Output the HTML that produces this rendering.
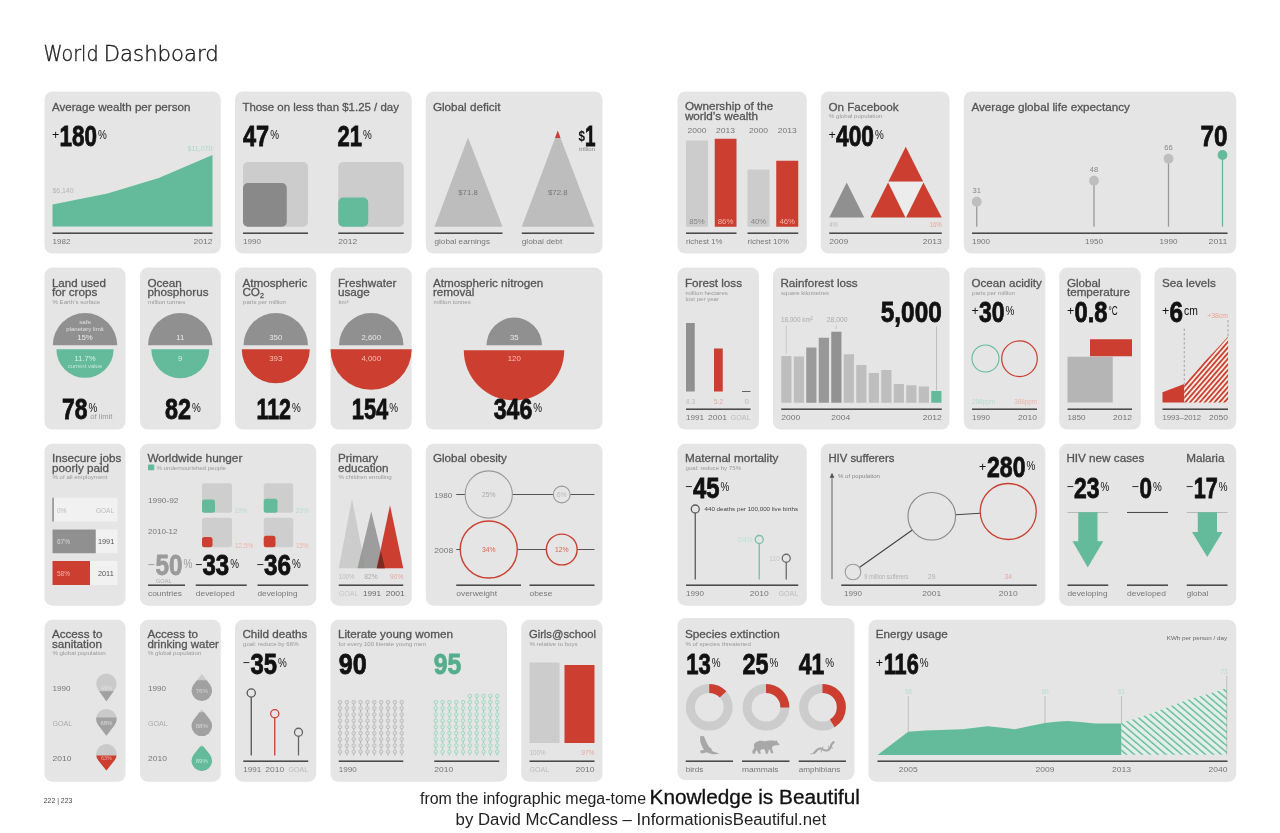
<!DOCTYPE html>
<html lang="en"><head><meta charset="utf-8"><title>World Dashboard</title>
<style>
html,body{margin:0;padding:0;background:#fff;}
body{width:1280px;height:833px;overflow:hidden;font-family:"Liberation Sans",sans-serif;}
svg{display:block;font-family:"Liberation Sans",sans-serif;}
</style></head><body>
<svg width="1280" height="833" viewBox="0 0 1280 833">
<defs>
<pattern id="hatchR" width="3.7" height="10" patternUnits="userSpaceOnUse" patternTransform="rotate(41) translate(3.095 0)"><rect x="0" y="0" width="3.7" height="10" fill="#f6ece3"/><rect x="0" y="0" width="1.8" height="10" fill="#cb3e30"/></pattern>
<pattern id="hatchG" width="5.12" height="10" patternUnits="userSpaceOnUse" patternTransform="rotate(-49.6) translate(1.105 0)"><rect x="0" y="0" width="5.12" height="10" fill="#e3eee9"/><rect x="0" y="0" width="1.4" height="10" fill="#64bb9b"/></pattern>
</defs>
<text y="60.5" font-size="22" fill="#1a1a1a" stroke="#1a1a1a" stroke-width="0.4" font-weight="200" font-family="&quot;DejaVu Sans&quot;, &quot;Liberation Sans&quot;, sans-serif"><tspan x="43.6" textLength="55" lengthAdjust="spacingAndGlyphs">World</tspan> <tspan x="103.8" textLength="115" lengthAdjust="spacingAndGlyphs">Dashboard</tspan></text>
<text x="43.8" y="803.2" font-size="6.8" fill="#444" textLength="28.5" lengthAdjust="spacingAndGlyphs">222 | 223</text>
<text x="420" y="804.3" fill="#222" font-size="15.6" textLength="226" lengthAdjust="spacingAndGlyphs">from the infographic mega-tome</text>
<text x="649.5" y="804.3" fill="#111" font-size="19.6" textLength="210.5" lengthAdjust="spacingAndGlyphs" stroke="#111" stroke-width="0.3">Knowledge is Beautiful</text>
<text x="455.6" y="825.4" fill="#222" font-size="15.6" textLength="370.5" lengthAdjust="spacingAndGlyphs">by David McCandless – InformationisBeautiful.net</text>
<rect x="44.5" y="91.5" width="176.25" height="162.00" rx="8" fill="#e4e5e4"/>
<text x="51.9" y="110.6" font-size="11.7" fill="#555" textLength="138.5" lengthAdjust="spacingAndGlyphs" stroke="#555" stroke-width="0.3">Average wealth per person</text>
<text x="51.9" y="139.2" font-size="12.5" fill="#111">+</text>
<text x="59.50" y="145.5" font-size="28.6" font-weight="bold" fill="#111" stroke="#111" stroke-width="0.8" stroke-linejoin="miter" textLength="37.50" lengthAdjust="spacingAndGlyphs">180</text>
<text x="98.00" y="138.70" font-size="13" fill="#111" textLength="8.8" lengthAdjust="spacingAndGlyphs">%</text>
<polygon points="52.50,226.50 52.50,204.50 107.50,193.50 158.75,178.00 212.50,155.00 212.50,226.50" fill="#64bb9b"/>
<text x="52.5" y="192.7" font-size="7" fill="#b4b4b4" textLength="21" lengthAdjust="spacingAndGlyphs">$6,140</text>
<text x="187.5" y="150.7" font-size="7" fill="#a9d8c7" textLength="25" lengthAdjust="spacingAndGlyphs">$11,070</text>
<rect x="52.5" y="232.45" width="160.00" height="1.5" fill="#424342"/>
<text x="52.5" y="243.6" font-size="7.8" fill="#777" textLength="18.0" lengthAdjust="spacingAndGlyphs">1982</text>
<text x="212.5" y="243.6" font-size="7.8" fill="#777" text-anchor="end" textLength="19.0" lengthAdjust="spacingAndGlyphs">2012</text>
<rect x="235" y="91.5" width="176.75" height="162.00" rx="8" fill="#e4e5e4"/>
<text x="242.4" y="110.6" font-size="11.7" fill="#555" textLength="156.5" lengthAdjust="spacingAndGlyphs" stroke="#555" stroke-width="0.3">Those on less than $1.25 / day</text>
<text x="243.00" y="145.5" font-size="28.6" font-weight="bold" fill="#111" stroke="#111" stroke-width="0.8" stroke-linejoin="miter" textLength="26.20" lengthAdjust="spacingAndGlyphs">47</text>
<text x="270.20" y="138.70" font-size="13" fill="#111" textLength="8.8" lengthAdjust="spacingAndGlyphs">%</text>
<text x="337.50" y="145.5" font-size="28.6" font-weight="bold" fill="#111" stroke="#111" stroke-width="0.8" stroke-linejoin="miter" textLength="24.50" lengthAdjust="spacingAndGlyphs">21</text>
<text x="363.00" y="138.70" font-size="13" fill="#111" textLength="8.8" lengthAdjust="spacingAndGlyphs">%</text>
<rect x="243.00" y="162.00" width="65.00" height="64.75" rx="5" fill="#cbcccb"/>
<rect x="243.00" y="183.00" width="43.75" height="43.75" rx="5" fill="#888988"/>
<rect x="338.25" y="162.00" width="65.50" height="64.75" rx="5" fill="#cbcccb"/>
<rect x="338.25" y="197.50" width="30.00" height="29.25" rx="5" fill="#64bb9b"/>
<rect x="243" y="232.45" width="65.00" height="1.5" fill="#424342"/>
<rect x="338.25" y="232.45" width="65.50" height="1.5" fill="#424342"/>
<text x="243" y="243.6" font-size="7.8" fill="#777" textLength="18.0" lengthAdjust="spacingAndGlyphs">1990</text>
<text x="338.25" y="243.6" font-size="7.8" fill="#777" textLength="19.0" lengthAdjust="spacingAndGlyphs">2012</text>
<rect x="425.75" y="91.5" width="176.75" height="162.00" rx="8" fill="#e4e5e4"/>
<text x="432.9" y="110.6" font-size="11.7" fill="#555" stroke="#555" stroke-width="0.3">Global deficit</text>
<polygon points="468.00,137.50 434.50,226.75 502.50,226.75" fill="#bcbdbc"/>
<polygon points="557.75,130.75 521.75,226.75 594.25,226.75" fill="#bcbdbc"/>
<polygon points="557.75,130.75 555.00,138.00 560.50,138.00" fill="#cb3e30"/>
<text x="468" y="195.3" font-size="7.8" fill="#777" text-anchor="middle">$71.8</text>
<text x="557.75" y="195.3" font-size="7.8" fill="#777" text-anchor="middle">$72.8</text>
<text x="578.5" y="140.5" font-size="14" font-weight="bold" fill="#111" textLength="6.5" lengthAdjust="spacingAndGlyphs">$</text>
<text x="585" y="145.5" font-size="28.6" font-weight="bold" fill="#111" stroke="#111" stroke-width="0.8" textLength="10.5" lengthAdjust="spacingAndGlyphs">1</text>
<text x="579" y="151.3" font-size="5.6" fill="#888" textLength="16.3" lengthAdjust="spacingAndGlyphs">trillion</text>
<rect x="434.5" y="232.45" width="68.00" height="1.5" fill="#424342"/>
<rect x="521.75" y="232.45" width="72.50" height="1.5" fill="#424342"/>
<text x="434.5" y="243.6" font-size="7.8" fill="#777" textLength="55.5" lengthAdjust="spacingAndGlyphs">global earnings</text>
<text x="521.75" y="243.6" font-size="7.8" fill="#777" textLength="40.5" lengthAdjust="spacingAndGlyphs">global debt</text>
<rect x="677.5" y="91.5" width="129.25" height="162.00" rx="8" fill="#e4e5e4"/>
<text x="684.9" y="110.1" font-size="11.7" fill="#555" stroke="#555" stroke-width="0.3">Ownership of the</text>
<text x="684.9" y="119.69999999999999" font-size="11.7" fill="#555" stroke="#555" stroke-width="0.3">world’s wealth</text>
<text x="697" y="132.6" font-size="7.8" fill="#777" text-anchor="middle" textLength="19.0" lengthAdjust="spacingAndGlyphs">2000</text>
<text x="725.6" y="132.6" font-size="7.8" fill="#777" text-anchor="middle" textLength="19.0" lengthAdjust="spacingAndGlyphs">2013</text>
<text x="758.5" y="132.6" font-size="7.8" fill="#777" text-anchor="middle" textLength="19.0" lengthAdjust="spacingAndGlyphs">2000</text>
<text x="787.2" y="132.6" font-size="7.8" fill="#777" text-anchor="middle" textLength="19.0" lengthAdjust="spacingAndGlyphs">2013</text>
<rect x="686.00" y="140.50" width="22.00" height="86.25" fill="#cbcccb"/>
<rect x="714.75" y="138.75" width="21.75" height="88.00" fill="#cb3e30"/>
<rect x="747.50" y="169.50" width="22.00" height="57.25" fill="#cbcccb"/>
<rect x="776.25" y="160.75" width="22.00" height="66.00" fill="#cb3e30"/>
<text x="697" y="223.9" font-size="7.8" fill="#888" text-anchor="middle">85%</text>
<text x="725.6" y="223.9" font-size="7.8" fill="#f3b5ab" text-anchor="middle">86%</text>
<text x="758.5" y="223.9" font-size="7.8" fill="#888" text-anchor="middle">40%</text>
<text x="787.2" y="223.9" font-size="7.8" fill="#f3b5ab" text-anchor="middle">46%</text>
<rect x="686" y="232.45" width="50.50" height="1.5" fill="#424342"/>
<rect x="747.5" y="232.45" width="50.75" height="1.5" fill="#424342"/>
<text x="686" y="243.6" font-size="7.8" fill="#777" textLength="36.5" lengthAdjust="spacingAndGlyphs">richest 1%</text>
<text x="747.5" y="243.6" font-size="7.8" fill="#777" textLength="41.5" lengthAdjust="spacingAndGlyphs">richest 10%</text>
<rect x="820.75" y="91.5" width="128.75" height="162.00" rx="8" fill="#e4e5e4"/>
<text x="828.4" y="110.6" font-size="11.7" fill="#555" stroke="#555" stroke-width="0.3">On Facebook</text>
<text x="829" y="118" font-size="6.1" fill="#999">% global population</text>
<text x="828.4" y="139.2" font-size="12.5" fill="#111">+</text>
<text x="836.00" y="145.5" font-size="28.6" font-weight="bold" fill="#111" stroke="#111" stroke-width="0.8" stroke-linejoin="miter" textLength="38.00" lengthAdjust="spacingAndGlyphs">400</text>
<text x="875.00" y="138.70" font-size="13" fill="#111" textLength="8.8" lengthAdjust="spacingAndGlyphs">%</text>
<polygon points="846.75,182.50 829.25,217.50 864.25,217.50" fill="#8f908f"/>
<polygon points="905.75,146.75 888.40,181.60 923.10,181.60" fill="#cb3e30"/>
<polygon points="888.75,182.20 923.10,182.20 905.75,216.80" fill="#ececec"/>
<polygon points="888.10,182.60 870.50,217.50 905.40,217.50" fill="#cb3e30"/>
<polygon points="923.40,182.60 906.10,217.50 941.75,217.50" fill="#cb3e30"/>
<text x="829.25" y="226.9" font-size="7.4" fill="#b8b8b8" textLength="8.5" lengthAdjust="spacingAndGlyphs">4%</text>
<text x="929.5" y="226.9" font-size="7.4" fill="#e9a79c" textLength="12.2" lengthAdjust="spacingAndGlyphs">16%</text>
<rect x="829.25" y="232.45" width="112.50" height="1.5" fill="#424342"/>
<text x="829.25" y="243.6" font-size="7.8" fill="#777" textLength="19.0" lengthAdjust="spacingAndGlyphs">2009</text>
<text x="941.75" y="243.6" font-size="7.8" fill="#777" text-anchor="end" textLength="19.0" lengthAdjust="spacingAndGlyphs">2013</text>
<rect x="963.75" y="91.5" width="272.50" height="162.00" rx="8" fill="#e4e5e4"/>
<text x="971.4" y="110.6" font-size="11.7" fill="#555" textLength="158.5" lengthAdjust="spacingAndGlyphs" stroke="#555" stroke-width="0.3">Average global life expectancy</text>
<line x1="976.75" y1="201.75" x2="976.75" y2="226.75" stroke="#999" stroke-width="1.3"/>
<circle cx="976.75" cy="201.75" r="4.90" fill="#bdbebd"/>
<text x="976.75" y="193.35" font-size="7.6" fill="#888" text-anchor="middle">31</text>
<line x1="1094.00" y1="180.75" x2="1094.00" y2="226.75" stroke="#999" stroke-width="1.3"/>
<circle cx="1094.00" cy="180.75" r="4.90" fill="#bdbebd"/>
<text x="1094" y="172.35" font-size="7.6" fill="#888" text-anchor="middle">48</text>
<line x1="1168.50" y1="158.75" x2="1168.50" y2="226.75" stroke="#999" stroke-width="1.3"/>
<circle cx="1168.50" cy="158.75" r="4.90" fill="#bdbebd"/>
<text x="1168.5" y="150.35" font-size="7.6" fill="#888" text-anchor="middle">66</text>
<line x1="1222.50" y1="155.00" x2="1222.50" y2="226.75" stroke="#64bb9b" stroke-width="1.3"/>
<circle cx="1222.50" cy="155.00" r="4.90" fill="#64bb9b"/>
<text x="1200.5" y="145.5" font-size="28.6" font-weight="bold" fill="#111" stroke="#111" stroke-width="0.8" textLength="27" lengthAdjust="spacingAndGlyphs">70</text>
<rect x="972" y="232.45" width="255.50" height="1.5" fill="#424342"/>
<text x="972" y="243.6" font-size="7.8" fill="#777" textLength="18.0" lengthAdjust="spacingAndGlyphs">1900</text>
<text x="1094" y="243.6" font-size="7.8" fill="#777" text-anchor="middle" textLength="18.0" lengthAdjust="spacingAndGlyphs">1950</text>
<text x="1168.5" y="243.6" font-size="7.8" fill="#777" text-anchor="middle" textLength="18.0" lengthAdjust="spacingAndGlyphs">1990</text>
<text x="1227.5" y="243.6" font-size="7.8" fill="#777" text-anchor="end" textLength="19.0" lengthAdjust="spacingAndGlyphs">2011</text>
<rect x="44.5" y="267.6" width="81.00" height="162.00" rx="8" fill="#e4e5e4"/>
<text x="51.9" y="286.6" font-size="11.7" fill="#555" textLength="54" lengthAdjust="spacingAndGlyphs" stroke="#555" stroke-width="0.3">Land used</text>
<text x="51.9" y="296.20000000000005" font-size="11.7" fill="#555" stroke="#555" stroke-width="0.3">for crops</text>
<text x="52.5" y="303.5" font-size="6.1" fill="#999">% Earth’s surface</text>
<path d="M52.80,345.25 A32.2,32.2 0 0 1 117.20,345.25 Z" fill="#8f908f"/>
<path d="M56.40,349.25 A28.6,28.6 0 0 0 113.60,349.25 Z" fill="#64bb9b"/>
<text x="85" y="323.7" font-size="6.2" fill="#e0e0e0" text-anchor="middle">safe</text>
<text x="85" y="330.6" font-size="6.2" fill="#e0e0e0" text-anchor="middle" textLength="37.5" lengthAdjust="spacingAndGlyphs">planetary limit</text>
<text x="85" y="340.1" font-size="7.8" fill="#e8e8e8" text-anchor="middle">15%</text>
<text x="85" y="361.3" font-size="7.8" fill="#d5efe5" text-anchor="middle">11.7%</text>
<text x="85" y="367.8" font-size="6.2" fill="#c5e8da" text-anchor="middle" textLength="34.5" lengthAdjust="spacingAndGlyphs">current value</text>
<text x="62.00" y="419" font-size="28.6" font-weight="bold" fill="#111" stroke="#111" stroke-width="0.8" stroke-linejoin="miter" textLength="25.50" lengthAdjust="spacingAndGlyphs">78</text>
<text x="88.50" y="412.20" font-size="13" fill="#111" textLength="8.8" lengthAdjust="spacingAndGlyphs">%</text>
<text x="90.3" y="418.6" font-size="6.8" fill="#999" textLength="22" lengthAdjust="spacingAndGlyphs">of limit</text>
<rect x="140" y="267.6" width="80.75" height="162.00" rx="8" fill="#e4e5e4"/>
<text x="147.4" y="286.6" font-size="11.7" fill="#555" stroke="#555" stroke-width="0.3">Ocean</text>
<text x="147.4" y="296.20000000000005" font-size="11.7" fill="#555" stroke="#555" stroke-width="0.3">phosphorus</text>
<text x="148" y="303.5" font-size="6.1" fill="#999">million tonnes</text>
<path d="M148.05,345.25 A32.2,32.2 0 0 1 212.45,345.25 Z" fill="#8f908f"/>
<path d="M151.25,349.25 A29,29 0 0 0 209.25,349.25 Z" fill="#64bb9b"/>
<text x="180.25" y="340.1" font-size="7.8" fill="#e8e8e8" text-anchor="middle">11</text>
<text x="180.25" y="361.3" font-size="7.8" fill="#d5efe5" text-anchor="middle">9</text>
<text x="165.00" y="419" font-size="28.6" font-weight="bold" fill="#111" stroke="#111" stroke-width="0.8" stroke-linejoin="miter" textLength="26.00" lengthAdjust="spacingAndGlyphs">82</text>
<text x="192.00" y="412.20" font-size="13" fill="#111" textLength="8.8" lengthAdjust="spacingAndGlyphs">%</text>
<rect x="235" y="267.6" width="81.25" height="162.00" rx="8" fill="#e4e5e4"/>
<text x="242.4" y="286.6" font-size="11.7" fill="#555" stroke="#555" stroke-width="0.3">Atmospheric</text>
<text x="242.4" y="296.3" font-size="11.7" fill="#555" stroke="#555" stroke-width="0.3">CO<tspan font-size="7" dy="1.5">2</tspan></text>
<text x="243" y="303.5" font-size="6.1" fill="#999">parts per million</text>
<path d="M243.55,345.25 A32.2,32.2 0 0 1 307.95,345.25 Z" fill="#8f908f"/>
<path d="M241.75,349.25 A34,34 0 0 0 309.75,349.25 Z" fill="#cb3e30"/>
<text x="275.75" y="340.1" font-size="7.8" fill="#e8e8e8" text-anchor="middle">350</text>
<text x="275.75" y="361.3" font-size="7.8" fill="#f5c3ba" text-anchor="middle">393</text>
<text x="256.50" y="419" font-size="28.6" font-weight="bold" fill="#111" stroke="#111" stroke-width="0.8" stroke-linejoin="miter" textLength="34.50" lengthAdjust="spacingAndGlyphs">112</text>
<text x="292.00" y="412.20" font-size="13" fill="#111" textLength="8.8" lengthAdjust="spacingAndGlyphs">%</text>
<rect x="330.5" y="267.6" width="81.25" height="162.00" rx="8" fill="#e4e5e4"/>
<text x="337.9" y="286.6" font-size="11.7" fill="#555" stroke="#555" stroke-width="0.3">Freshwater</text>
<text x="337.9" y="296.20000000000005" font-size="11.7" fill="#555" stroke="#555" stroke-width="0.3">usage</text>
<text x="338.5" y="303.5" font-size="6.1" fill="#999">km³</text>
<path d="M339.05,345.25 A32.2,32.2 0 0 1 403.45,345.25 Z" fill="#8f908f"/>
<path d="M330.50,349.25 A40.6,40.6 0 0 0 411.70,349.25 Z" fill="#cb3e30"/>
<text x="371.25" y="340.1" font-size="7.8" fill="#e8e8e8" text-anchor="middle">2,600</text>
<text x="371.25" y="361.3" font-size="7.8" fill="#f5c3ba" text-anchor="middle">4,000</text>
<text x="351.75" y="419" font-size="28.6" font-weight="bold" fill="#111" stroke="#111" stroke-width="0.8" stroke-linejoin="miter" textLength="36.50" lengthAdjust="spacingAndGlyphs">154</text>
<text x="389.25" y="412.20" font-size="13" fill="#111" textLength="8.8" lengthAdjust="spacingAndGlyphs">%</text>
<rect x="425.75" y="267.6" width="176.75" height="162.00" rx="8" fill="#e4e5e4"/>
<text x="432.9" y="286.6" font-size="11.7" fill="#555" stroke="#555" stroke-width="0.3">Atmospheric nitrogen</text>
<text x="432.9" y="296.20000000000005" font-size="11.7" fill="#555" stroke="#555" stroke-width="0.3">removal</text>
<text x="433.5" y="303.5" font-size="6.1" fill="#999">million tonnes</text>
<path d="M486.55,345.25 A27.7,27.7 0 0 1 541.95,345.25 Z" fill="#8f908f"/>
<path d="M463.80,350.25 A50.2,50.2 0 0 0 564.20,350.25 Z" fill="#cb3e30"/>
<text x="514.25" y="340.1" font-size="7.8" fill="#e8e8e8" text-anchor="middle">35</text>
<text x="514.25" y="361.3" font-size="7.8" fill="#f5c3ba" text-anchor="middle">120</text>
<text x="493.75" y="419" font-size="28.6" font-weight="bold" fill="#111" stroke="#111" stroke-width="0.8" stroke-linejoin="miter" textLength="38.50" lengthAdjust="spacingAndGlyphs">346</text>
<text x="533.25" y="412.20" font-size="13" fill="#111" textLength="8.8" lengthAdjust="spacingAndGlyphs">%</text>
<rect x="677.5" y="267.6" width="81.50" height="162.00" rx="8" fill="#e4e5e4"/>
<text x="684.9" y="286.6" font-size="11.7" fill="#555" stroke="#555" stroke-width="0.3">Forest loss</text>
<text x="685.5" y="294.5" font-size="6.1" fill="#999">million hectares</text>
<text x="685.5" y="300.8" font-size="6.1" fill="#999">lost per year</text>
<rect x="686.00" y="323.00" width="8.75" height="68.50" fill="#8f908f"/>
<rect x="714.00" y="348.50" width="8.75" height="43.00" fill="#cb3e30"/>
<rect x="742" y="391.10" width="8.50" height="0.8" fill="#424342"/>
<text x="686" y="403.7" font-size="7.6" fill="#bbb" textLength="9" lengthAdjust="spacingAndGlyphs">8.3</text>
<text x="714" y="403.7" font-size="7.6" fill="#e9a79c" textLength="9" lengthAdjust="spacingAndGlyphs">5.2</text>
<text x="744.4" y="403.7" font-size="7.6" fill="#bbb" textLength="4.4" lengthAdjust="spacingAndGlyphs">0</text>
<rect x="686" y="408.45" width="64.50" height="1.5" fill="#424342"/>
<text x="686" y="419.6" font-size="7.8" fill="#777" textLength="18.0" lengthAdjust="spacingAndGlyphs">1991</text>
<text x="708" y="419.6" font-size="7.8" fill="#777" textLength="19.0" lengthAdjust="spacingAndGlyphs">2001</text>
<text x="750.5" y="419.6" font-size="7.8" fill="#bbb" text-anchor="end" textLength="19.8" lengthAdjust="spacingAndGlyphs">GOAL</text>
<rect x="773" y="267.6" width="176.50" height="162.00" rx="8" fill="#e4e5e4"/>
<text x="780.4" y="286.6" font-size="11.7" fill="#555" stroke="#555" stroke-width="0.3">Rainforest loss</text>
<text x="781" y="294.5" font-size="6.1" fill="#999">square kilometres</text>
<rect x="781.25" y="356.00" width="10.20" height="46.75" fill="#bdbebd"/>
<rect x="793.75" y="356.50" width="10.20" height="46.25" fill="#bdbebd"/>
<rect x="806.25" y="347.50" width="10.20" height="55.25" fill="#9a9b9a"/>
<rect x="818.75" y="337.75" width="10.20" height="65.00" fill="#979897"/>
<rect x="831.25" y="331.75" width="10.20" height="71.00" fill="#919291"/>
<rect x="843.75" y="354.25" width="10.20" height="48.50" fill="#bdbebd"/>
<rect x="856.25" y="365.00" width="10.20" height="37.75" fill="#bdbebd"/>
<rect x="868.75" y="373.00" width="10.20" height="29.75" fill="#bdbebd"/>
<rect x="881.25" y="370.00" width="10.20" height="32.75" fill="#bdbebd"/>
<rect x="893.75" y="384.00" width="10.20" height="18.75" fill="#bdbebd"/>
<rect x="906.25" y="385.25" width="10.20" height="17.50" fill="#bdbebd"/>
<rect x="918.75" y="386.50" width="10.20" height="16.25" fill="#bdbebd"/>
<rect x="931.25" y="391.00" width="10.20" height="11.75" fill="#64bb9b"/>
<text x="880.75" y="321.5" font-size="28.6" font-weight="bold" fill="#111" stroke="#111" stroke-width="0.8" textLength="61" lengthAdjust="spacingAndGlyphs">5,000</text>
<text x="781" y="322.3" font-size="7.8" fill="#aaa" textLength="31.8" lengthAdjust="spacingAndGlyphs">18,000 km²</text>
<text x="826.75" y="322.3" font-size="7.8" fill="#aaa" textLength="20.8" lengthAdjust="spacingAndGlyphs">28,000</text>
<line x1="786.25" y1="325.50" x2="786.25" y2="354.00" stroke="#aaa" stroke-width="0.5"/>
<line x1="836.30" y1="325.50" x2="836.30" y2="329.00" stroke="#aaa" stroke-width="0.5"/>
<line x1="936.50" y1="326.50" x2="936.50" y2="390.50" stroke="#999" stroke-width="0.5"/>
<rect x="781.25" y="408.45" width="160.50" height="1.5" fill="#424342"/>
<text x="781.25" y="419.6" font-size="7.8" fill="#777" textLength="19.0" lengthAdjust="spacingAndGlyphs">2000</text>
<text x="831.25" y="419.6" font-size="7.8" fill="#777" textLength="19.0" lengthAdjust="spacingAndGlyphs">2004</text>
<text x="941.75" y="419.6" font-size="7.8" fill="#777" text-anchor="end" textLength="19.0" lengthAdjust="spacingAndGlyphs">2012</text>
<rect x="963.75" y="267.6" width="81.50" height="162.00" rx="8" fill="#e4e5e4"/>
<text x="971.4" y="286.6" font-size="11.7" fill="#555" textLength="70.5" lengthAdjust="spacingAndGlyphs" stroke="#555" stroke-width="0.3">Ocean acidity</text>
<text x="972" y="294.5" font-size="6.1" fill="#999">parts per million</text>
<text x="971.4" y="315.2" font-size="12.5" fill="#111">+</text>
<text x="979.00" y="321.5" font-size="28.6" font-weight="bold" fill="#111" stroke="#111" stroke-width="0.8" stroke-linejoin="miter" textLength="25.50" lengthAdjust="spacingAndGlyphs">30</text>
<text x="1005.50" y="314.70" font-size="13" fill="#111" textLength="8.8" lengthAdjust="spacingAndGlyphs">%</text>
<circle cx="985.50" cy="358.50" r="13.50" fill="none" stroke="#64bb9b" stroke-width="1.1"/>
<circle cx="1019.50" cy="358.75" r="17.80" fill="none" stroke="#cb3e30" stroke-width="1.2"/>
<text x="972" y="403.7" font-size="7.6" fill="#b5dccd" textLength="23" lengthAdjust="spacingAndGlyphs">298ppm</text>
<text x="1014.2" y="403.7" font-size="7.6" fill="#eeb3a9" textLength="22.8" lengthAdjust="spacingAndGlyphs">388ppm</text>
<rect x="972" y="408.45" width="65.00" height="1.5" fill="#424342"/>
<text x="972" y="419.6" font-size="7.8" fill="#777" textLength="18.0" lengthAdjust="spacingAndGlyphs">1990</text>
<text x="1037" y="419.6" font-size="7.8" fill="#777" text-anchor="end" textLength="19.0" lengthAdjust="spacingAndGlyphs">2010</text>
<rect x="1059.25" y="267.6" width="81.50" height="162.00" rx="8" fill="#e4e5e4"/>
<text x="1066.9" y="286.6" font-size="11.7" fill="#555" stroke="#555" stroke-width="0.3">Global</text>
<text x="1066.9" y="296.20000000000005" font-size="11.7" fill="#555" stroke="#555" stroke-width="0.3">temperature</text>
<text x="1066.9" y="315.2" font-size="12.5" fill="#111">+</text>
<text x="1074.50" y="321.5" font-size="28.6" font-weight="bold" fill="#111" stroke="#111" stroke-width="0.8" stroke-linejoin="miter" textLength="33.00" lengthAdjust="spacingAndGlyphs">0.8</text>
<text x="1108.50" y="314.70" font-size="13" fill="#111" textLength="9.2" lengthAdjust="spacingAndGlyphs">°C</text>
<rect x="1067.50" y="356.75" width="45.25" height="45.75" fill="#b4b5b4"/>
<rect x="1090.00" y="339.25" width="42.00" height="17.00" fill="#cb3e30"/>
<rect x="1067.5" y="408.45" width="64.50" height="1.5" fill="#424342"/>
<text x="1067.5" y="419.6" font-size="7.8" fill="#777" textLength="18.0" lengthAdjust="spacingAndGlyphs">1850</text>
<text x="1132" y="419.6" font-size="7.8" fill="#777" text-anchor="end" textLength="19.0" lengthAdjust="spacingAndGlyphs">2012</text>
<rect x="1154.5" y="267.6" width="81.75" height="162.00" rx="8" fill="#e4e5e4"/>
<text x="1161.9" y="286.6" font-size="11.7" fill="#555" stroke="#555" stroke-width="0.3">Sea levels</text>
<text x="1161.9" y="315.2" font-size="12.5" fill="#111">+</text>
<text x="1169.50" y="321.5" font-size="28.6" font-weight="bold" fill="#111" stroke="#111" stroke-width="0.8" stroke-linejoin="miter" textLength="13.50" lengthAdjust="spacingAndGlyphs">6</text>
<text x="1184.00" y="314.70" font-size="13" fill="#111" textLength="13.8" lengthAdjust="spacingAndGlyphs">cm</text>
<polygon points="1162.50,402.50 1162.50,392.25 1184.25,384.00 1184.25,402.50" fill="#cb3e30"/>
<polygon points="1184.25,402.50 1184.25,384.00 1196.40,370.80 1203.40,362.50 1212.50,353.40 1228.10,336.60 1228.10,402.50" fill="url(#hatchR)"/>
<line x1="1184.25" y1="328.50" x2="1184.25" y2="384.00" stroke="#888" stroke-width="0.7" stroke-dasharray="2.5 2"/>
<line x1="1228.00" y1="320.00" x2="1228.00" y2="336.50" stroke="#888" stroke-width="0.7" stroke-dasharray="2.5 2"/>
<text x="1207.3" y="317.9" font-size="7.2" fill="#eba293" textLength="20.7" lengthAdjust="spacingAndGlyphs">+38cm</text>
<rect x="1162.5" y="408.45" width="65.50" height="1.5" fill="#424342"/>
<text x="1162.5" y="419.6" font-size="7.8" fill="#777" textLength="38.5" lengthAdjust="spacingAndGlyphs">1993–2012</text>
<text x="1228" y="419.6" font-size="7.8" fill="#777" text-anchor="end" textLength="19.0" lengthAdjust="spacingAndGlyphs">2050</text>
<rect x="44.5" y="443.7" width="81.00" height="162.00" rx="8" fill="#e4e5e4"/>
<text x="51.9" y="462.1" font-size="11.7" fill="#555" textLength="69.5" lengthAdjust="spacingAndGlyphs" stroke="#555" stroke-width="0.3">Insecure jobs</text>
<text x="51.9" y="471.70000000000005" font-size="11.7" fill="#555" stroke="#555" stroke-width="0.3">poorly paid</text>
<text x="52.5" y="479" font-size="6.1" fill="#999">% of all employment</text>
<rect x="52.50" y="497.75" width="65.00" height="23.75" fill="#f1f1f1"/>
<rect x="52.50" y="497.75" width="1.10" height="23.75" fill="#666"/>
<text x="57" y="512.7" font-size="6.5" fill="#bbb">0%</text>
<text x="114" y="512.7" font-size="6.5" fill="#bbb" text-anchor="end">GOAL</text>
<rect x="52.50" y="529.50" width="65.00" height="23.75" fill="#f1f1f1"/>
<rect x="52.50" y="529.50" width="43.25" height="23.75" fill="#8f908f"/>
<text x="57" y="544.3" font-size="6.5" fill="#d8d8d8">67%</text>
<text x="98" y="544.3" font-size="7.3" fill="#555">1991</text>
<rect x="52.50" y="561.00" width="65.00" height="24.00" fill="#f1f1f1"/>
<rect x="52.50" y="561.00" width="37.50" height="24.00" fill="#cb3e30"/>
<text x="57" y="575.8" font-size="6.5" fill="#f3b5ab">58%</text>
<text x="98" y="575.8" font-size="7.3" fill="#555">2011</text>
<rect x="140" y="443.7" width="176.25" height="162.00" rx="8" fill="#e4e5e4"/>
<text x="147.4" y="462.1" font-size="11.7" fill="#555" textLength="95" lengthAdjust="spacingAndGlyphs" stroke="#555" stroke-width="0.3">Worldwide hunger</text>
<rect x="148.00" y="464.50" width="6.25" height="5.75" rx="0.8" fill="#64bb9b"/>
<text x="156.5" y="470" font-size="6.1" fill="#999">% undernourished people</text>
<text x="148" y="502.6" font-size="7.8" fill="#777" textLength="30.5" lengthAdjust="spacingAndGlyphs">1990-92</text>
<text x="148" y="533.9" font-size="7.8" fill="#777" textLength="29.5" lengthAdjust="spacingAndGlyphs">2010-12</text>
<rect x="202.00" y="483.25" width="30.00" height="29.50" rx="2.5" fill="#cdcecd"/>
<rect x="202.00" y="517.75" width="30.00" height="29.50" rx="2.5" fill="#cdcecd"/>
<rect x="263.75" y="483.25" width="29.50" height="29.50" rx="2.5" fill="#cdcecd"/>
<rect x="263.75" y="517.75" width="29.50" height="29.50" rx="2.5" fill="#cdcecd"/>
<rect x="202.00" y="499.50" width="13.00" height="13.25" rx="2.5" fill="#64bb9b"/>
<rect x="263.75" y="498.75" width="13.75" height="14.00" rx="2.5" fill="#64bb9b"/>
<rect x="202.00" y="537.00" width="10.50" height="10.25" rx="2.5" fill="#cb3e30"/>
<rect x="263.75" y="535.75" width="11.75" height="11.50" rx="2.5" fill="#cb3e30"/>
<text x="235" y="512.7" font-size="7.6" fill="#b5dccd" textLength="12" lengthAdjust="spacingAndGlyphs">19%</text>
<text x="295.75" y="512.7" font-size="7.6" fill="#b5dccd" textLength="13" lengthAdjust="spacingAndGlyphs">23%</text>
<text x="235" y="547.7" font-size="7.6" fill="#eeb3a9" textLength="18.3" lengthAdjust="spacingAndGlyphs">12.5%</text>
<text x="296" y="547.7" font-size="7.6" fill="#eeb3a9" textLength="12.5" lengthAdjust="spacingAndGlyphs">15%</text>
<text x="147.4" y="568.7" font-size="12.5" fill="#9a9a9a">−</text>
<text x="155.50" y="575" font-size="28.6" font-weight="bold" fill="#9a9a9a" stroke="#9a9a9a" stroke-width="0.8" stroke-linejoin="miter" textLength="27.00" lengthAdjust="spacingAndGlyphs">50</text>
<text x="183.50" y="568.20" font-size="13" fill="#9a9a9a" textLength="8.8" lengthAdjust="spacingAndGlyphs">%</text>
<text x="156" y="583.3" font-size="5.6" fill="#aaa">GOAL</text>
<text x="194.9" y="568.7" font-size="12.5" fill="#111">−</text>
<text x="202.50" y="575" font-size="28.6" font-weight="bold" fill="#111" stroke="#111" stroke-width="0.8" stroke-linejoin="miter" textLength="26.70" lengthAdjust="spacingAndGlyphs">33</text>
<text x="230.20" y="568.20" font-size="13" fill="#111" textLength="8.8" lengthAdjust="spacingAndGlyphs">%</text>
<text x="256.4" y="568.7" font-size="12.5" fill="#111">−</text>
<text x="264.00" y="575" font-size="28.6" font-weight="bold" fill="#111" stroke="#111" stroke-width="0.8" stroke-linejoin="miter" textLength="27.00" lengthAdjust="spacingAndGlyphs">36</text>
<text x="292.00" y="568.20" font-size="13" fill="#111" textLength="8.8" lengthAdjust="spacingAndGlyphs">%</text>
<rect x="148" y="584.45" width="37.00" height="1.5" fill="#424342"/>
<rect x="195.75" y="584.45" width="51.00" height="1.5" fill="#424342"/>
<rect x="257.5" y="584.45" width="50.75" height="1.5" fill="#424342"/>
<text x="148" y="595.9" font-size="7.8" fill="#777" textLength="34" lengthAdjust="spacingAndGlyphs">countries</text>
<text x="195.75" y="595.9" font-size="7.8" fill="#777" textLength="39" lengthAdjust="spacingAndGlyphs">developed</text>
<text x="257.5" y="595.9" font-size="7.8" fill="#777" textLength="40" lengthAdjust="spacingAndGlyphs">developing</text>
<rect x="330.5" y="443.7" width="81.25" height="162.00" rx="8" fill="#e4e5e4"/>
<text x="337.9" y="462.1" font-size="11.7" fill="#555" stroke="#555" stroke-width="0.3">Primary</text>
<text x="337.9" y="471.70000000000005" font-size="11.7" fill="#555" stroke="#555" stroke-width="0.3">education</text>
<text x="338.5" y="479" font-size="6.1" fill="#999">% children enrolling</text>
<polygon points="352.00,499.00 338.75,568.25 365.50,568.25" fill="#cbcccb"/>
<polygon points="371.25,511.50 357.50,568.25 385.00,568.25" fill="#8f908f" fill-opacity="0.85"/>
<polygon points="390.00,505.25 376.75,568.25 403.25,568.25" fill="#cb3e30"/>
<polygon points="380.90,551.30 376.75,568.25 385.00,568.25" fill="#7d2a22"/>
<text x="338.75" y="579.2" font-size="7.6" fill="#bbb" textLength="15.8" lengthAdjust="spacingAndGlyphs">100%</text>
<text x="364.25" y="579.2" font-size="7.6" fill="#aaa" textLength="13.3" lengthAdjust="spacingAndGlyphs">82%</text>
<text x="390" y="579.2" font-size="7.6" fill="#e9a79c" textLength="13.3" lengthAdjust="spacingAndGlyphs">90%</text>
<rect x="338.75" y="584.45" width="64.50" height="1.5" fill="#424342"/>
<text x="338.75" y="595.9" font-size="7.8" fill="#c4c4c4" textLength="19.8" lengthAdjust="spacingAndGlyphs">GOAL</text>
<text x="363" y="595.9" font-size="7.8" fill="#666" textLength="18.0" lengthAdjust="spacingAndGlyphs">1991</text>
<text x="385.75" y="595.9" font-size="7.8" fill="#666" textLength="19.0" lengthAdjust="spacingAndGlyphs">2001</text>
<rect x="425.75" y="443.7" width="176.75" height="162.00" rx="8" fill="#e4e5e4"/>
<text x="432.9" y="462.1" font-size="11.7" fill="#555" stroke="#555" stroke-width="0.3">Global obesity</text>
<text x="434.25" y="497.6" font-size="7.8" fill="#777" textLength="18.0" lengthAdjust="spacingAndGlyphs">1980</text>
<text x="434.25" y="552.6" font-size="7.8" fill="#777" textLength="19.0" lengthAdjust="spacingAndGlyphs">2008</text>
<line x1="456.25" y1="494.50" x2="594.50" y2="494.50" stroke="#555" stroke-width="1.1"/>
<line x1="456.25" y1="549.50" x2="594.50" y2="549.50" stroke="#555" stroke-width="1.1"/>
<circle cx="488.75" cy="494.50" r="23.60" fill="#e4e5e4" stroke="#999" stroke-width="1.1"/>
<circle cx="561.75" cy="494.50" r="8.40" fill="#e4e5e4" stroke="#999" stroke-width="1.1"/>
<circle cx="488.75" cy="549.50" r="28.50" fill="#e4e5e4" stroke="#cb3e30" stroke-width="1.4"/>
<circle cx="561.75" cy="549.50" r="15.40" fill="#e4e5e4" stroke="#cb3e30" stroke-width="1.4"/>
<text x="488.75" y="497" font-size="6.8" fill="#aaa" text-anchor="middle">25%</text>
<text x="561.75" y="497" font-size="6.8" fill="#bbb" text-anchor="middle">6%</text>
<text x="488.75" y="552" font-size="6.8" fill="#d9664f" text-anchor="middle">34%</text>
<text x="561.75" y="552" font-size="6.8" fill="#d9664f" text-anchor="middle">12%</text>
<rect x="456.25" y="584.45" width="64.75" height="1.5" fill="#424342"/>
<rect x="529.5" y="584.45" width="65.00" height="1.5" fill="#424342"/>
<text x="456.25" y="595.9" font-size="7.8" fill="#777" textLength="40.8" lengthAdjust="spacingAndGlyphs">overweight</text>
<text x="529.5" y="595.9" font-size="7.8" fill="#777" textLength="22.8" lengthAdjust="spacingAndGlyphs">obese</text>
<rect x="677.5" y="443.7" width="129.25" height="162.00" rx="8" fill="#e4e5e4"/>
<text x="684.9" y="462.1" font-size="11.7" fill="#555" textLength="93.5" lengthAdjust="spacingAndGlyphs" stroke="#555" stroke-width="0.3">Maternal mortality</text>
<text x="685.5" y="470" font-size="6.1" fill="#999">goal: reduce by 75%</text>
<text x="684.9" y="491.2" font-size="12.5" fill="#111">−</text>
<text x="693.00" y="497.5" font-size="28.6" font-weight="bold" fill="#111" stroke="#111" stroke-width="0.8" stroke-linejoin="miter" textLength="26.50" lengthAdjust="spacingAndGlyphs">45</text>
<text x="720.50" y="490.70" font-size="13" fill="#111" textLength="8.8" lengthAdjust="spacingAndGlyphs">%</text>
<line x1="695.25" y1="513.00" x2="695.25" y2="579.50" stroke="#5a5a5a" stroke-width="1.3"/>
<circle cx="695.25" cy="509.00" r="4.00" fill="none" stroke="#5a5a5a" stroke-width="1.3"/>
<line x1="759.25" y1="543.50" x2="759.25" y2="579.50" stroke="#76c0a5" stroke-width="1.3"/>
<circle cx="759.25" cy="539.50" r="4.00" fill="none" stroke="#76c0a5" stroke-width="1.3"/>
<line x1="786.25" y1="562.25" x2="786.25" y2="579.50" stroke="#6a6a6a" stroke-width="1.3"/>
<circle cx="786.25" cy="558.25" r="4.00" fill="none" stroke="#6a6a6a" stroke-width="1.3"/>
<text x="704.5" y="511" font-size="5.6" fill="#444" textLength="93.5" lengthAdjust="spacingAndGlyphs">440 deaths per 100,000 live births</text>
<text x="752" y="542.2" font-size="7.4" fill="#bfe2d5" text-anchor="end" textLength="14.5" lengthAdjust="spacingAndGlyphs">240</text>
<text x="779.8" y="561" font-size="7.4" fill="#c6c6c6" text-anchor="end" textLength="10.5" lengthAdjust="spacingAndGlyphs">110</text>
<rect x="686" y="584.45" width="112.25" height="1.5" fill="#424342"/>
<text x="686" y="595.9" font-size="7.8" fill="#777" textLength="18.0" lengthAdjust="spacingAndGlyphs">1990</text>
<text x="759.25" y="595.9" font-size="7.8" fill="#777" text-anchor="middle" textLength="19.0" lengthAdjust="spacingAndGlyphs">2010</text>
<text x="798.25" y="595.9" font-size="7.8" fill="#bbb" text-anchor="end" textLength="19.8" lengthAdjust="spacingAndGlyphs">GOAL</text>
<rect x="820.75" y="443.7" width="224.50" height="162.00" rx="8" fill="#e4e5e4"/>
<text x="828.4" y="462.1" font-size="11.7" fill="#555" textLength="66" lengthAdjust="spacingAndGlyphs" stroke="#555" stroke-width="0.3">HIV sufferers</text>
<line x1="832.00" y1="476.00" x2="832.00" y2="579.00" stroke="#555" stroke-width="0.9"/>
<polygon points="832.00,472.80 829.60,477.80 834.40,477.80" fill="#555"/>
<text x="838" y="477.5" font-size="6.1" fill="#888">% of population</text>
<line x1="853.00" y1="572.00" x2="931.75" y2="516.25" stroke="#444" stroke-width="1.1"/>
<line x1="931.75" y1="516.25" x2="1008.25" y2="511.50" stroke="#444" stroke-width="1.1"/>
<circle cx="853.00" cy="572.00" r="7.80" fill="#e4e5e4" stroke="#999" stroke-width="1.1"/>
<circle cx="931.75" cy="516.25" r="23.80" fill="#e4e5e4" stroke="#888" stroke-width="1.1"/>
<circle cx="1008.25" cy="511.50" r="28.00" fill="#e4e5e4" stroke="#cb3e30" stroke-width="1.3"/>
<text x="864.25" y="579.2" font-size="7.6" fill="#b0b0b0" textLength="44" lengthAdjust="spacingAndGlyphs">9 million sufferers</text>
<text x="928" y="579.2" font-size="7.6" fill="#b0b0b0" textLength="7.5" lengthAdjust="spacingAndGlyphs">29</text>
<text x="1004.5" y="579.2" font-size="7.6" fill="#e9a79c" textLength="7.5" lengthAdjust="spacingAndGlyphs">34</text>
<text x="978.9" y="470.7" font-size="12.5" fill="#111">+</text>
<text x="987.00" y="477" font-size="28.6" font-weight="bold" fill="#111" stroke="#111" stroke-width="0.8" stroke-linejoin="miter" textLength="38.50" lengthAdjust="spacingAndGlyphs">280</text>
<text x="1026.50" y="470.20" font-size="13" fill="#111" textLength="8.8" lengthAdjust="spacingAndGlyphs">%</text>
<rect x="841.25" y="584.45" width="195.50" height="1.5" fill="#424342"/>
<text x="844" y="595.9" font-size="7.8" fill="#777" textLength="18.0" lengthAdjust="spacingAndGlyphs">1990</text>
<text x="931.75" y="595.9" font-size="7.8" fill="#777" text-anchor="middle" textLength="19.0" lengthAdjust="spacingAndGlyphs">2001</text>
<text x="1008.25" y="595.9" font-size="7.8" fill="#777" text-anchor="middle" textLength="19.0" lengthAdjust="spacingAndGlyphs">2010</text>
<rect x="1059.25" y="443.7" width="177.00" height="162.00" rx="8" fill="#e4e5e4"/>
<text x="1066.4" y="462.1" font-size="11.7" fill="#555" stroke="#555" stroke-width="0.3">HIV new cases</text>
<text x="1186.15" y="462.1" font-size="11.7" fill="#555" stroke="#555" stroke-width="0.3">Malaria</text>
<text x="1066.4" y="491.2" font-size="12.5" fill="#111">−</text>
<text x="1074.00" y="497.5" font-size="28.6" font-weight="bold" fill="#111" stroke="#111" stroke-width="0.8" stroke-linejoin="miter" textLength="25.50" lengthAdjust="spacingAndGlyphs">23</text>
<text x="1100.50" y="490.70" font-size="13" fill="#111" textLength="8.8" lengthAdjust="spacingAndGlyphs">%</text>
<text x="1131.4" y="491.2" font-size="12.5" fill="#111">−</text>
<text x="1139.50" y="497.5" font-size="28.6" font-weight="bold" fill="#111" stroke="#111" stroke-width="0.8" stroke-linejoin="miter" textLength="12.50" lengthAdjust="spacingAndGlyphs">0</text>
<text x="1153.00" y="490.70" font-size="13" fill="#111" textLength="8.8" lengthAdjust="spacingAndGlyphs">%</text>
<text x="1185.65" y="491.2" font-size="12.5" fill="#111">−</text>
<text x="1193.75" y="497.5" font-size="28.6" font-weight="bold" fill="#111" stroke="#111" stroke-width="0.8" stroke-linejoin="miter" textLength="24.00" lengthAdjust="spacingAndGlyphs">17</text>
<text x="1218.75" y="490.70" font-size="13" fill="#111" textLength="8.8" lengthAdjust="spacingAndGlyphs">%</text>
<rect x="1067.5" y="512.15" width="40.75" height="0.6" fill="#999"/>
<rect x="1127" y="511.95" width="41.00" height="1.0" fill="#424342"/>
<rect x="1186.75" y="512.15" width="40.75" height="0.6" fill="#999"/>
<polygon points="1078.25,512.25 1097.50,512.25 1097.50,541.25 1103.25,541.25 1087.75,567.50 1072.50,541.25 1078.25,541.25" fill="#64bb9b"/>
<polygon points="1197.75,512.25 1217.00,512.25 1217.00,532.00 1222.50,532.00 1207.25,557.00 1192.00,532.00 1197.75,532.00" fill="#64bb9b"/>
<rect x="1067.5" y="584.45" width="40.75" height="1.5" fill="#424342"/>
<rect x="1127" y="584.45" width="41.00" height="1.5" fill="#424342"/>
<rect x="1186.75" y="584.45" width="40.75" height="1.5" fill="#424342"/>
<text x="1067.5" y="595.9" font-size="7.8" fill="#777" textLength="40" lengthAdjust="spacingAndGlyphs">developing</text>
<text x="1127" y="595.9" font-size="7.8" fill="#777" textLength="39" lengthAdjust="spacingAndGlyphs">developed</text>
<text x="1186.75" y="595.9" font-size="7.8" fill="#777" textLength="21.5" lengthAdjust="spacingAndGlyphs">global</text>
<rect x="44.5" y="619.8" width="81.00" height="162.00" rx="8" fill="#e4e5e4"/>
<text x="51.9" y="638.1" font-size="11.7" fill="#555" stroke="#555" stroke-width="0.3">Access to</text>
<text x="51.9" y="647.7" font-size="11.7" fill="#555" stroke="#555" stroke-width="0.3">sanitation</text>
<text x="52.5" y="655" font-size="6.1" fill="#999">% global population</text>
<text x="52.5" y="691.1" font-size="7.8" fill="#777" textLength="18.0" lengthAdjust="spacingAndGlyphs">1990</text>
<text x="52.5" y="726.1" font-size="7.8" fill="#aaa" textLength="19.8" lengthAdjust="spacingAndGlyphs">GOAL</text>
<text x="52.5" y="761.1" font-size="7.8" fill="#777" textLength="19.0" lengthAdjust="spacingAndGlyphs">2010</text>
<clipPath id="dc1"><rect x="91.4" y="691.2" width="30" height="40"/></clipPath>
<path d="M106.4,701.2 L98.14,689.78 A10.2,10.2 0 1 1 114.66,689.78 Z" fill="#c9cac9"/>
<path d="M106.4,701.2 L98.14,689.78 A10.2,10.2 0 1 1 114.66,689.78 Z" fill="#a0a1a0" clip-path="url(#dc1)"/>
<clipPath id="dc2"><rect x="91.4" y="717.5" width="30" height="40"/></clipPath>
<path d="M106.4,735.7 L98.35,725.37 A10.2,10.2 0 1 1 114.45,725.37 Z" fill="#c9cac9"/>
<path d="M106.4,735.7 L98.35,725.37 A10.2,10.2 0 1 1 114.45,725.37 Z" fill="#a0a1a0" clip-path="url(#dc2)"/>
<clipPath id="dc3"><rect x="91.4" y="755.4" width="30" height="40"/></clipPath>
<path d="M106.4,770.6 L98.41,760.54 A10.2,10.2 0 1 1 114.39,760.54 Z" fill="#c9cac9"/>
<path d="M106.4,770.6 L98.41,760.54 A10.2,10.2 0 1 1 114.39,760.54 Z" fill="#cb3e30" clip-path="url(#dc3)"/>
<text x="106.4" y="690" font-size="5.5" fill="#e2e2e2" text-anchor="middle">49%</text>
<text x="106.4" y="724.5" font-size="6" fill="#dcdcdc" text-anchor="middle">68%</text>
<text x="106.4" y="760.3" font-size="5.5" fill="#e9a79c" text-anchor="middle">63%</text>
<rect x="140" y="619.8" width="80.75" height="162.00" rx="8" fill="#e4e5e4"/>
<text x="147.4" y="638.1" font-size="11.7" fill="#555" stroke="#555" stroke-width="0.3">Access to</text>
<text x="147.4" y="647.7" font-size="11.7" fill="#555" textLength="71.5" lengthAdjust="spacingAndGlyphs" stroke="#555" stroke-width="0.3">drinking water</text>
<text x="148" y="655" font-size="6.1" fill="#999">% global population</text>
<text x="148" y="691.1" font-size="7.8" fill="#777" textLength="18.0" lengthAdjust="spacingAndGlyphs">1990</text>
<text x="148" y="726.1" font-size="7.8" fill="#aaa" textLength="19.8" lengthAdjust="spacingAndGlyphs">GOAL</text>
<text x="148" y="761.1" font-size="7.8" fill="#777" textLength="19.0" lengthAdjust="spacingAndGlyphs">2010</text>
<clipPath id="dc4"><rect x="186.8" y="680.2" width="30" height="40"/></clipPath>
<path d="M201.8,674 L209.88,684.47 A10.2,10.2 0 1 1 193.72,684.47 Z" fill="#c9cac9"/>
<path d="M201.8,674 L209.88,684.47 A10.2,10.2 0 1 1 193.72,684.47 Z" fill="#a0a1a0" clip-path="url(#dc4)"/>
<clipPath id="dc5"><rect x="186.8" y="712.3" width="30" height="40"/></clipPath>
<path d="M201.8,709.2 L209.88,719.67 A10.2,10.2 0 1 1 193.72,719.67 Z" fill="#c9cac9"/>
<path d="M201.8,709.2 L209.88,719.67 A10.2,10.2 0 1 1 193.72,719.67 Z" fill="#a0a1a0" clip-path="url(#dc5)"/>
<clipPath id="dc6"><rect x="186.8" y="746.6" width="30" height="40"/></clipPath>
<path d="M201.8,744.4 L209.79,754.46 A10.2,10.2 0 1 1 193.81,754.46 Z" fill="#c9cac9"/>
<path d="M201.8,744.4 L209.79,754.46 A10.2,10.2 0 1 1 193.81,754.46 Z" fill="#64bb9b" clip-path="url(#dc6)"/>
<text x="201.8" y="692.5" font-size="6" fill="#d4d4d4" text-anchor="middle">76%</text>
<text x="201.8" y="727.7" font-size="6" fill="#d4d4d4" text-anchor="middle">88%</text>
<text x="201.8" y="762.7" font-size="6" fill="#bfe6d8" text-anchor="middle">89%</text>
<rect x="235" y="619.8" width="81.25" height="162.00" rx="8" fill="#e4e5e4"/>
<text x="242.4" y="638.1" font-size="11.7" fill="#555" textLength="65" lengthAdjust="spacingAndGlyphs" stroke="#555" stroke-width="0.3">Child deaths</text>
<text x="243" y="646" font-size="6.1" fill="#999">goal: reduce by 66%</text>
<text x="242.4" y="667.2" font-size="12.5" fill="#111">−</text>
<text x="250.50" y="673.5" font-size="28.6" font-weight="bold" fill="#111" stroke="#111" stroke-width="0.8" stroke-linejoin="miter" textLength="26.50" lengthAdjust="spacingAndGlyphs">35</text>
<text x="278.00" y="666.70" font-size="13" fill="#111" textLength="8.8" lengthAdjust="spacingAndGlyphs">%</text>
<line x1="251.25" y1="697.10" x2="251.25" y2="755.50" stroke="#555" stroke-width="1.3"/>
<circle cx="251.25" cy="693.00" r="4.10" fill="none" stroke="#555" stroke-width="1.3"/>
<line x1="274.75" y1="717.85" x2="274.75" y2="755.50" stroke="#cb3e30" stroke-width="1.3"/>
<circle cx="274.75" cy="713.75" r="4.10" fill="none" stroke="#cb3e30" stroke-width="1.3"/>
<line x1="298.50" y1="736.25" x2="298.50" y2="755.50" stroke="#666" stroke-width="1.3"/>
<circle cx="298.50" cy="732.25" r="4.00" fill="none" stroke="#666" stroke-width="1.3"/>
<rect x="243.25" y="760.45" width="65.00" height="1.5" fill="#424342"/>
<text x="243.25" y="771.9" font-size="7.8" fill="#777" textLength="18.0" lengthAdjust="spacingAndGlyphs">1991</text>
<text x="274.75" y="771.9" font-size="7.8" fill="#777" text-anchor="middle" textLength="19.0" lengthAdjust="spacingAndGlyphs">2010</text>
<text x="308.25" y="771.9" font-size="7.8" fill="#bbb" text-anchor="end" textLength="19.8" lengthAdjust="spacingAndGlyphs">GOAL</text>
<rect x="330.5" y="619.8" width="176.50" height="162.00" rx="8" fill="#e4e5e4"/>
<text x="337.9" y="638.1" font-size="11.7" fill="#555" textLength="115" lengthAdjust="spacingAndGlyphs" stroke="#555" stroke-width="0.3">Literate young women</text>
<text x="338.5" y="646" font-size="6.1" fill="#999">for every 100 literate young men</text>
<text x="338.75" y="673.5" font-size="28.6" font-weight="bold" fill="#111" stroke="#111" stroke-width="0.8" textLength="28" lengthAdjust="spacingAndGlyphs">90</text>
<text x="433.75" y="673.5" font-size="28.6" font-weight="bold" fill="#55ad8d" stroke="#55ad8d" stroke-width="0.8" textLength="27.5" lengthAdjust="spacingAndGlyphs">95</text>
<g stroke="#b2b3b2" stroke-width="0.75" fill="#dcdddc"><circle cx="340.00" cy="702.10" r="1.75"/><path d="M340.00,703.90v1.9" stroke-width="1.1"/></g>
<g stroke="#97cfba" stroke-width="0.75" fill="#d3ece2"><circle cx="435.75" cy="702.10" r="1.75"/><path d="M435.75,703.90v1.9" stroke-width="1.1"/></g>
<g stroke="#b2b3b2" stroke-width="0.75" fill="#dcdddc"><circle cx="346.86" cy="702.10" r="1.75"/><path d="M346.86,703.90v1.9" stroke-width="1.1"/></g>
<g stroke="#97cfba" stroke-width="0.75" fill="#d3ece2"><circle cx="442.58" cy="702.10" r="1.75"/><path d="M442.58,703.90v1.9" stroke-width="1.1"/></g>
<g stroke="#b2b3b2" stroke-width="0.75" fill="#dcdddc"><circle cx="353.72" cy="702.10" r="1.75"/><path d="M353.72,703.90v1.9" stroke-width="1.1"/></g>
<g stroke="#97cfba" stroke-width="0.75" fill="#d3ece2"><circle cx="449.41" cy="702.10" r="1.75"/><path d="M449.41,703.90v1.9" stroke-width="1.1"/></g>
<g stroke="#b2b3b2" stroke-width="0.75" fill="#dcdddc"><circle cx="360.58" cy="702.10" r="1.75"/><path d="M360.58,703.90v1.9" stroke-width="1.1"/></g>
<g stroke="#97cfba" stroke-width="0.75" fill="#d3ece2"><circle cx="456.24" cy="702.10" r="1.75"/><path d="M456.24,703.90v1.9" stroke-width="1.1"/></g>
<g stroke="#b2b3b2" stroke-width="0.75" fill="#dcdddc"><circle cx="367.44" cy="702.10" r="1.75"/><path d="M367.44,703.90v1.9" stroke-width="1.1"/></g>
<g stroke="#97cfba" stroke-width="0.75" fill="#d3ece2"><circle cx="463.07" cy="702.10" r="1.75"/><path d="M463.07,703.90v1.9" stroke-width="1.1"/></g>
<g stroke="#b2b3b2" stroke-width="0.75" fill="#dcdddc"><circle cx="374.30" cy="702.10" r="1.75"/><path d="M374.30,703.90v1.9" stroke-width="1.1"/></g>
<g stroke="#97cfba" stroke-width="0.75" fill="#d3ece2"><circle cx="469.90" cy="702.10" r="1.75"/><path d="M469.90,703.90v1.9" stroke-width="1.1"/></g>
<g stroke="#b2b3b2" stroke-width="0.75" fill="#dcdddc"><circle cx="381.16" cy="702.10" r="1.75"/><path d="M381.16,703.90v1.9" stroke-width="1.1"/></g>
<g stroke="#97cfba" stroke-width="0.75" fill="#d3ece2"><circle cx="476.73" cy="702.10" r="1.75"/><path d="M476.73,703.90v1.9" stroke-width="1.1"/></g>
<g stroke="#b2b3b2" stroke-width="0.75" fill="#dcdddc"><circle cx="388.02" cy="702.10" r="1.75"/><path d="M388.02,703.90v1.9" stroke-width="1.1"/></g>
<g stroke="#97cfba" stroke-width="0.75" fill="#d3ece2"><circle cx="483.56" cy="702.10" r="1.75"/><path d="M483.56,703.90v1.9" stroke-width="1.1"/></g>
<g stroke="#b2b3b2" stroke-width="0.75" fill="#dcdddc"><circle cx="394.88" cy="702.10" r="1.75"/><path d="M394.88,703.90v1.9" stroke-width="1.1"/></g>
<g stroke="#97cfba" stroke-width="0.75" fill="#d3ece2"><circle cx="490.39" cy="702.10" r="1.75"/><path d="M490.39,703.90v1.9" stroke-width="1.1"/></g>
<g stroke="#b2b3b2" stroke-width="0.75" fill="#dcdddc"><circle cx="401.74" cy="702.10" r="1.75"/><path d="M401.74,703.90v1.9" stroke-width="1.1"/></g>
<g stroke="#97cfba" stroke-width="0.75" fill="#d3ece2"><circle cx="497.22" cy="702.10" r="1.75"/><path d="M497.22,703.90v1.9" stroke-width="1.1"/></g>
<g stroke="#b2b3b2" stroke-width="0.75" fill="#dcdddc"><circle cx="340.00" cy="708.30" r="1.75"/><path d="M340.00,710.10v1.9" stroke-width="1.1"/></g>
<g stroke="#97cfba" stroke-width="0.75" fill="#d3ece2"><circle cx="435.75" cy="708.30" r="1.75"/><path d="M435.75,710.10v1.9" stroke-width="1.1"/></g>
<g stroke="#b2b3b2" stroke-width="0.75" fill="#dcdddc"><circle cx="346.86" cy="708.30" r="1.75"/><path d="M346.86,710.10v1.9" stroke-width="1.1"/></g>
<g stroke="#97cfba" stroke-width="0.75" fill="#d3ece2"><circle cx="442.58" cy="708.30" r="1.75"/><path d="M442.58,710.10v1.9" stroke-width="1.1"/></g>
<g stroke="#b2b3b2" stroke-width="0.75" fill="#dcdddc"><circle cx="353.72" cy="708.30" r="1.75"/><path d="M353.72,710.10v1.9" stroke-width="1.1"/></g>
<g stroke="#97cfba" stroke-width="0.75" fill="#d3ece2"><circle cx="449.41" cy="708.30" r="1.75"/><path d="M449.41,710.10v1.9" stroke-width="1.1"/></g>
<g stroke="#b2b3b2" stroke-width="0.75" fill="#dcdddc"><circle cx="360.58" cy="708.30" r="1.75"/><path d="M360.58,710.10v1.9" stroke-width="1.1"/></g>
<g stroke="#97cfba" stroke-width="0.75" fill="#d3ece2"><circle cx="456.24" cy="708.30" r="1.75"/><path d="M456.24,710.10v1.9" stroke-width="1.1"/></g>
<g stroke="#b2b3b2" stroke-width="0.75" fill="#dcdddc"><circle cx="367.44" cy="708.30" r="1.75"/><path d="M367.44,710.10v1.9" stroke-width="1.1"/></g>
<g stroke="#97cfba" stroke-width="0.75" fill="#d3ece2"><circle cx="463.07" cy="708.30" r="1.75"/><path d="M463.07,710.10v1.9" stroke-width="1.1"/></g>
<g stroke="#b2b3b2" stroke-width="0.75" fill="#dcdddc"><circle cx="374.30" cy="708.30" r="1.75"/><path d="M374.30,710.10v1.9" stroke-width="1.1"/></g>
<g stroke="#97cfba" stroke-width="0.75" fill="#d3ece2"><circle cx="469.90" cy="708.30" r="1.75"/><path d="M469.90,710.10v1.9" stroke-width="1.1"/></g>
<g stroke="#b2b3b2" stroke-width="0.75" fill="#dcdddc"><circle cx="381.16" cy="708.30" r="1.75"/><path d="M381.16,710.10v1.9" stroke-width="1.1"/></g>
<g stroke="#97cfba" stroke-width="0.75" fill="#d3ece2"><circle cx="476.73" cy="708.30" r="1.75"/><path d="M476.73,710.10v1.9" stroke-width="1.1"/></g>
<g stroke="#b2b3b2" stroke-width="0.75" fill="#dcdddc"><circle cx="388.02" cy="708.30" r="1.75"/><path d="M388.02,710.10v1.9" stroke-width="1.1"/></g>
<g stroke="#97cfba" stroke-width="0.75" fill="#d3ece2"><circle cx="483.56" cy="708.30" r="1.75"/><path d="M483.56,710.10v1.9" stroke-width="1.1"/></g>
<g stroke="#b2b3b2" stroke-width="0.75" fill="#dcdddc"><circle cx="394.88" cy="708.30" r="1.75"/><path d="M394.88,710.10v1.9" stroke-width="1.1"/></g>
<g stroke="#97cfba" stroke-width="0.75" fill="#d3ece2"><circle cx="490.39" cy="708.30" r="1.75"/><path d="M490.39,710.10v1.9" stroke-width="1.1"/></g>
<g stroke="#b2b3b2" stroke-width="0.75" fill="#dcdddc"><circle cx="401.74" cy="708.30" r="1.75"/><path d="M401.74,710.10v1.9" stroke-width="1.1"/></g>
<g stroke="#97cfba" stroke-width="0.75" fill="#d3ece2"><circle cx="497.22" cy="708.30" r="1.75"/><path d="M497.22,710.10v1.9" stroke-width="1.1"/></g>
<g stroke="#b2b3b2" stroke-width="0.75" fill="#dcdddc"><circle cx="340.00" cy="714.50" r="1.75"/><path d="M340.00,716.30v1.9" stroke-width="1.1"/></g>
<g stroke="#97cfba" stroke-width="0.75" fill="#d3ece2"><circle cx="435.75" cy="714.50" r="1.75"/><path d="M435.75,716.30v1.9" stroke-width="1.1"/></g>
<g stroke="#b2b3b2" stroke-width="0.75" fill="#dcdddc"><circle cx="346.86" cy="714.50" r="1.75"/><path d="M346.86,716.30v1.9" stroke-width="1.1"/></g>
<g stroke="#97cfba" stroke-width="0.75" fill="#d3ece2"><circle cx="442.58" cy="714.50" r="1.75"/><path d="M442.58,716.30v1.9" stroke-width="1.1"/></g>
<g stroke="#b2b3b2" stroke-width="0.75" fill="#dcdddc"><circle cx="353.72" cy="714.50" r="1.75"/><path d="M353.72,716.30v1.9" stroke-width="1.1"/></g>
<g stroke="#97cfba" stroke-width="0.75" fill="#d3ece2"><circle cx="449.41" cy="714.50" r="1.75"/><path d="M449.41,716.30v1.9" stroke-width="1.1"/></g>
<g stroke="#b2b3b2" stroke-width="0.75" fill="#dcdddc"><circle cx="360.58" cy="714.50" r="1.75"/><path d="M360.58,716.30v1.9" stroke-width="1.1"/></g>
<g stroke="#97cfba" stroke-width="0.75" fill="#d3ece2"><circle cx="456.24" cy="714.50" r="1.75"/><path d="M456.24,716.30v1.9" stroke-width="1.1"/></g>
<g stroke="#b2b3b2" stroke-width="0.75" fill="#dcdddc"><circle cx="367.44" cy="714.50" r="1.75"/><path d="M367.44,716.30v1.9" stroke-width="1.1"/></g>
<g stroke="#97cfba" stroke-width="0.75" fill="#d3ece2"><circle cx="463.07" cy="714.50" r="1.75"/><path d="M463.07,716.30v1.9" stroke-width="1.1"/></g>
<g stroke="#b2b3b2" stroke-width="0.75" fill="#dcdddc"><circle cx="374.30" cy="714.50" r="1.75"/><path d="M374.30,716.30v1.9" stroke-width="1.1"/></g>
<g stroke="#97cfba" stroke-width="0.75" fill="#d3ece2"><circle cx="469.90" cy="714.50" r="1.75"/><path d="M469.90,716.30v1.9" stroke-width="1.1"/></g>
<g stroke="#b2b3b2" stroke-width="0.75" fill="#dcdddc"><circle cx="381.16" cy="714.50" r="1.75"/><path d="M381.16,716.30v1.9" stroke-width="1.1"/></g>
<g stroke="#97cfba" stroke-width="0.75" fill="#d3ece2"><circle cx="476.73" cy="714.50" r="1.75"/><path d="M476.73,716.30v1.9" stroke-width="1.1"/></g>
<g stroke="#b2b3b2" stroke-width="0.75" fill="#dcdddc"><circle cx="388.02" cy="714.50" r="1.75"/><path d="M388.02,716.30v1.9" stroke-width="1.1"/></g>
<g stroke="#97cfba" stroke-width="0.75" fill="#d3ece2"><circle cx="483.56" cy="714.50" r="1.75"/><path d="M483.56,716.30v1.9" stroke-width="1.1"/></g>
<g stroke="#b2b3b2" stroke-width="0.75" fill="#dcdddc"><circle cx="394.88" cy="714.50" r="1.75"/><path d="M394.88,716.30v1.9" stroke-width="1.1"/></g>
<g stroke="#97cfba" stroke-width="0.75" fill="#d3ece2"><circle cx="490.39" cy="714.50" r="1.75"/><path d="M490.39,716.30v1.9" stroke-width="1.1"/></g>
<g stroke="#b2b3b2" stroke-width="0.75" fill="#dcdddc"><circle cx="401.74" cy="714.50" r="1.75"/><path d="M401.74,716.30v1.9" stroke-width="1.1"/></g>
<g stroke="#97cfba" stroke-width="0.75" fill="#d3ece2"><circle cx="497.22" cy="714.50" r="1.75"/><path d="M497.22,716.30v1.9" stroke-width="1.1"/></g>
<g stroke="#b2b3b2" stroke-width="0.75" fill="#dcdddc"><circle cx="340.00" cy="720.70" r="1.75"/><path d="M340.00,722.50v1.9" stroke-width="1.1"/></g>
<g stroke="#97cfba" stroke-width="0.75" fill="#d3ece2"><circle cx="435.75" cy="720.70" r="1.75"/><path d="M435.75,722.50v1.9" stroke-width="1.1"/></g>
<g stroke="#b2b3b2" stroke-width="0.75" fill="#dcdddc"><circle cx="346.86" cy="720.70" r="1.75"/><path d="M346.86,722.50v1.9" stroke-width="1.1"/></g>
<g stroke="#97cfba" stroke-width="0.75" fill="#d3ece2"><circle cx="442.58" cy="720.70" r="1.75"/><path d="M442.58,722.50v1.9" stroke-width="1.1"/></g>
<g stroke="#b2b3b2" stroke-width="0.75" fill="#dcdddc"><circle cx="353.72" cy="720.70" r="1.75"/><path d="M353.72,722.50v1.9" stroke-width="1.1"/></g>
<g stroke="#97cfba" stroke-width="0.75" fill="#d3ece2"><circle cx="449.41" cy="720.70" r="1.75"/><path d="M449.41,722.50v1.9" stroke-width="1.1"/></g>
<g stroke="#b2b3b2" stroke-width="0.75" fill="#dcdddc"><circle cx="360.58" cy="720.70" r="1.75"/><path d="M360.58,722.50v1.9" stroke-width="1.1"/></g>
<g stroke="#97cfba" stroke-width="0.75" fill="#d3ece2"><circle cx="456.24" cy="720.70" r="1.75"/><path d="M456.24,722.50v1.9" stroke-width="1.1"/></g>
<g stroke="#b2b3b2" stroke-width="0.75" fill="#dcdddc"><circle cx="367.44" cy="720.70" r="1.75"/><path d="M367.44,722.50v1.9" stroke-width="1.1"/></g>
<g stroke="#97cfba" stroke-width="0.75" fill="#d3ece2"><circle cx="463.07" cy="720.70" r="1.75"/><path d="M463.07,722.50v1.9" stroke-width="1.1"/></g>
<g stroke="#b2b3b2" stroke-width="0.75" fill="#dcdddc"><circle cx="374.30" cy="720.70" r="1.75"/><path d="M374.30,722.50v1.9" stroke-width="1.1"/></g>
<g stroke="#97cfba" stroke-width="0.75" fill="#d3ece2"><circle cx="469.90" cy="720.70" r="1.75"/><path d="M469.90,722.50v1.9" stroke-width="1.1"/></g>
<g stroke="#b2b3b2" stroke-width="0.75" fill="#dcdddc"><circle cx="381.16" cy="720.70" r="1.75"/><path d="M381.16,722.50v1.9" stroke-width="1.1"/></g>
<g stroke="#97cfba" stroke-width="0.75" fill="#d3ece2"><circle cx="476.73" cy="720.70" r="1.75"/><path d="M476.73,722.50v1.9" stroke-width="1.1"/></g>
<g stroke="#b2b3b2" stroke-width="0.75" fill="#dcdddc"><circle cx="388.02" cy="720.70" r="1.75"/><path d="M388.02,722.50v1.9" stroke-width="1.1"/></g>
<g stroke="#97cfba" stroke-width="0.75" fill="#d3ece2"><circle cx="483.56" cy="720.70" r="1.75"/><path d="M483.56,722.50v1.9" stroke-width="1.1"/></g>
<g stroke="#b2b3b2" stroke-width="0.75" fill="#dcdddc"><circle cx="394.88" cy="720.70" r="1.75"/><path d="M394.88,722.50v1.9" stroke-width="1.1"/></g>
<g stroke="#97cfba" stroke-width="0.75" fill="#d3ece2"><circle cx="490.39" cy="720.70" r="1.75"/><path d="M490.39,722.50v1.9" stroke-width="1.1"/></g>
<g stroke="#b2b3b2" stroke-width="0.75" fill="#dcdddc"><circle cx="401.74" cy="720.70" r="1.75"/><path d="M401.74,722.50v1.9" stroke-width="1.1"/></g>
<g stroke="#97cfba" stroke-width="0.75" fill="#d3ece2"><circle cx="497.22" cy="720.70" r="1.75"/><path d="M497.22,722.50v1.9" stroke-width="1.1"/></g>
<g stroke="#b2b3b2" stroke-width="0.75" fill="#dcdddc"><circle cx="340.00" cy="726.90" r="1.75"/><path d="M340.00,728.70v1.9" stroke-width="1.1"/></g>
<g stroke="#97cfba" stroke-width="0.75" fill="#d3ece2"><circle cx="435.75" cy="726.90" r="1.75"/><path d="M435.75,728.70v1.9" stroke-width="1.1"/></g>
<g stroke="#b2b3b2" stroke-width="0.75" fill="#dcdddc"><circle cx="346.86" cy="726.90" r="1.75"/><path d="M346.86,728.70v1.9" stroke-width="1.1"/></g>
<g stroke="#97cfba" stroke-width="0.75" fill="#d3ece2"><circle cx="442.58" cy="726.90" r="1.75"/><path d="M442.58,728.70v1.9" stroke-width="1.1"/></g>
<g stroke="#b2b3b2" stroke-width="0.75" fill="#dcdddc"><circle cx="353.72" cy="726.90" r="1.75"/><path d="M353.72,728.70v1.9" stroke-width="1.1"/></g>
<g stroke="#97cfba" stroke-width="0.75" fill="#d3ece2"><circle cx="449.41" cy="726.90" r="1.75"/><path d="M449.41,728.70v1.9" stroke-width="1.1"/></g>
<g stroke="#b2b3b2" stroke-width="0.75" fill="#dcdddc"><circle cx="360.58" cy="726.90" r="1.75"/><path d="M360.58,728.70v1.9" stroke-width="1.1"/></g>
<g stroke="#97cfba" stroke-width="0.75" fill="#d3ece2"><circle cx="456.24" cy="726.90" r="1.75"/><path d="M456.24,728.70v1.9" stroke-width="1.1"/></g>
<g stroke="#b2b3b2" stroke-width="0.75" fill="#dcdddc"><circle cx="367.44" cy="726.90" r="1.75"/><path d="M367.44,728.70v1.9" stroke-width="1.1"/></g>
<g stroke="#97cfba" stroke-width="0.75" fill="#d3ece2"><circle cx="463.07" cy="726.90" r="1.75"/><path d="M463.07,728.70v1.9" stroke-width="1.1"/></g>
<g stroke="#b2b3b2" stroke-width="0.75" fill="#dcdddc"><circle cx="374.30" cy="726.90" r="1.75"/><path d="M374.30,728.70v1.9" stroke-width="1.1"/></g>
<g stroke="#97cfba" stroke-width="0.75" fill="#d3ece2"><circle cx="469.90" cy="726.90" r="1.75"/><path d="M469.90,728.70v1.9" stroke-width="1.1"/></g>
<g stroke="#b2b3b2" stroke-width="0.75" fill="#dcdddc"><circle cx="381.16" cy="726.90" r="1.75"/><path d="M381.16,728.70v1.9" stroke-width="1.1"/></g>
<g stroke="#97cfba" stroke-width="0.75" fill="#d3ece2"><circle cx="476.73" cy="726.90" r="1.75"/><path d="M476.73,728.70v1.9" stroke-width="1.1"/></g>
<g stroke="#b2b3b2" stroke-width="0.75" fill="#dcdddc"><circle cx="388.02" cy="726.90" r="1.75"/><path d="M388.02,728.70v1.9" stroke-width="1.1"/></g>
<g stroke="#97cfba" stroke-width="0.75" fill="#d3ece2"><circle cx="483.56" cy="726.90" r="1.75"/><path d="M483.56,728.70v1.9" stroke-width="1.1"/></g>
<g stroke="#b2b3b2" stroke-width="0.75" fill="#dcdddc"><circle cx="394.88" cy="726.90" r="1.75"/><path d="M394.88,728.70v1.9" stroke-width="1.1"/></g>
<g stroke="#97cfba" stroke-width="0.75" fill="#d3ece2"><circle cx="490.39" cy="726.90" r="1.75"/><path d="M490.39,728.70v1.9" stroke-width="1.1"/></g>
<g stroke="#b2b3b2" stroke-width="0.75" fill="#dcdddc"><circle cx="401.74" cy="726.90" r="1.75"/><path d="M401.74,728.70v1.9" stroke-width="1.1"/></g>
<g stroke="#97cfba" stroke-width="0.75" fill="#d3ece2"><circle cx="497.22" cy="726.90" r="1.75"/><path d="M497.22,728.70v1.9" stroke-width="1.1"/></g>
<g stroke="#b2b3b2" stroke-width="0.75" fill="#dcdddc"><circle cx="340.00" cy="733.10" r="1.75"/><path d="M340.00,734.90v1.9" stroke-width="1.1"/></g>
<g stroke="#97cfba" stroke-width="0.75" fill="#d3ece2"><circle cx="435.75" cy="733.10" r="1.75"/><path d="M435.75,734.90v1.9" stroke-width="1.1"/></g>
<g stroke="#b2b3b2" stroke-width="0.75" fill="#dcdddc"><circle cx="346.86" cy="733.10" r="1.75"/><path d="M346.86,734.90v1.9" stroke-width="1.1"/></g>
<g stroke="#97cfba" stroke-width="0.75" fill="#d3ece2"><circle cx="442.58" cy="733.10" r="1.75"/><path d="M442.58,734.90v1.9" stroke-width="1.1"/></g>
<g stroke="#b2b3b2" stroke-width="0.75" fill="#dcdddc"><circle cx="353.72" cy="733.10" r="1.75"/><path d="M353.72,734.90v1.9" stroke-width="1.1"/></g>
<g stroke="#97cfba" stroke-width="0.75" fill="#d3ece2"><circle cx="449.41" cy="733.10" r="1.75"/><path d="M449.41,734.90v1.9" stroke-width="1.1"/></g>
<g stroke="#b2b3b2" stroke-width="0.75" fill="#dcdddc"><circle cx="360.58" cy="733.10" r="1.75"/><path d="M360.58,734.90v1.9" stroke-width="1.1"/></g>
<g stroke="#97cfba" stroke-width="0.75" fill="#d3ece2"><circle cx="456.24" cy="733.10" r="1.75"/><path d="M456.24,734.90v1.9" stroke-width="1.1"/></g>
<g stroke="#b2b3b2" stroke-width="0.75" fill="#dcdddc"><circle cx="367.44" cy="733.10" r="1.75"/><path d="M367.44,734.90v1.9" stroke-width="1.1"/></g>
<g stroke="#97cfba" stroke-width="0.75" fill="#d3ece2"><circle cx="463.07" cy="733.10" r="1.75"/><path d="M463.07,734.90v1.9" stroke-width="1.1"/></g>
<g stroke="#b2b3b2" stroke-width="0.75" fill="#dcdddc"><circle cx="374.30" cy="733.10" r="1.75"/><path d="M374.30,734.90v1.9" stroke-width="1.1"/></g>
<g stroke="#97cfba" stroke-width="0.75" fill="#d3ece2"><circle cx="469.90" cy="733.10" r="1.75"/><path d="M469.90,734.90v1.9" stroke-width="1.1"/></g>
<g stroke="#b2b3b2" stroke-width="0.75" fill="#dcdddc"><circle cx="381.16" cy="733.10" r="1.75"/><path d="M381.16,734.90v1.9" stroke-width="1.1"/></g>
<g stroke="#97cfba" stroke-width="0.75" fill="#d3ece2"><circle cx="476.73" cy="733.10" r="1.75"/><path d="M476.73,734.90v1.9" stroke-width="1.1"/></g>
<g stroke="#b2b3b2" stroke-width="0.75" fill="#dcdddc"><circle cx="388.02" cy="733.10" r="1.75"/><path d="M388.02,734.90v1.9" stroke-width="1.1"/></g>
<g stroke="#97cfba" stroke-width="0.75" fill="#d3ece2"><circle cx="483.56" cy="733.10" r="1.75"/><path d="M483.56,734.90v1.9" stroke-width="1.1"/></g>
<g stroke="#b2b3b2" stroke-width="0.75" fill="#dcdddc"><circle cx="394.88" cy="733.10" r="1.75"/><path d="M394.88,734.90v1.9" stroke-width="1.1"/></g>
<g stroke="#97cfba" stroke-width="0.75" fill="#d3ece2"><circle cx="490.39" cy="733.10" r="1.75"/><path d="M490.39,734.90v1.9" stroke-width="1.1"/></g>
<g stroke="#b2b3b2" stroke-width="0.75" fill="#dcdddc"><circle cx="401.74" cy="733.10" r="1.75"/><path d="M401.74,734.90v1.9" stroke-width="1.1"/></g>
<g stroke="#97cfba" stroke-width="0.75" fill="#d3ece2"><circle cx="497.22" cy="733.10" r="1.75"/><path d="M497.22,734.90v1.9" stroke-width="1.1"/></g>
<g stroke="#b2b3b2" stroke-width="0.75" fill="#dcdddc"><circle cx="340.00" cy="739.30" r="1.75"/><path d="M340.00,741.10v1.9" stroke-width="1.1"/></g>
<g stroke="#97cfba" stroke-width="0.75" fill="#d3ece2"><circle cx="435.75" cy="739.30" r="1.75"/><path d="M435.75,741.10v1.9" stroke-width="1.1"/></g>
<g stroke="#b2b3b2" stroke-width="0.75" fill="#dcdddc"><circle cx="346.86" cy="739.30" r="1.75"/><path d="M346.86,741.10v1.9" stroke-width="1.1"/></g>
<g stroke="#97cfba" stroke-width="0.75" fill="#d3ece2"><circle cx="442.58" cy="739.30" r="1.75"/><path d="M442.58,741.10v1.9" stroke-width="1.1"/></g>
<g stroke="#b2b3b2" stroke-width="0.75" fill="#dcdddc"><circle cx="353.72" cy="739.30" r="1.75"/><path d="M353.72,741.10v1.9" stroke-width="1.1"/></g>
<g stroke="#97cfba" stroke-width="0.75" fill="#d3ece2"><circle cx="449.41" cy="739.30" r="1.75"/><path d="M449.41,741.10v1.9" stroke-width="1.1"/></g>
<g stroke="#b2b3b2" stroke-width="0.75" fill="#dcdddc"><circle cx="360.58" cy="739.30" r="1.75"/><path d="M360.58,741.10v1.9" stroke-width="1.1"/></g>
<g stroke="#97cfba" stroke-width="0.75" fill="#d3ece2"><circle cx="456.24" cy="739.30" r="1.75"/><path d="M456.24,741.10v1.9" stroke-width="1.1"/></g>
<g stroke="#b2b3b2" stroke-width="0.75" fill="#dcdddc"><circle cx="367.44" cy="739.30" r="1.75"/><path d="M367.44,741.10v1.9" stroke-width="1.1"/></g>
<g stroke="#97cfba" stroke-width="0.75" fill="#d3ece2"><circle cx="463.07" cy="739.30" r="1.75"/><path d="M463.07,741.10v1.9" stroke-width="1.1"/></g>
<g stroke="#b2b3b2" stroke-width="0.75" fill="#dcdddc"><circle cx="374.30" cy="739.30" r="1.75"/><path d="M374.30,741.10v1.9" stroke-width="1.1"/></g>
<g stroke="#97cfba" stroke-width="0.75" fill="#d3ece2"><circle cx="469.90" cy="739.30" r="1.75"/><path d="M469.90,741.10v1.9" stroke-width="1.1"/></g>
<g stroke="#b2b3b2" stroke-width="0.75" fill="#dcdddc"><circle cx="381.16" cy="739.30" r="1.75"/><path d="M381.16,741.10v1.9" stroke-width="1.1"/></g>
<g stroke="#97cfba" stroke-width="0.75" fill="#d3ece2"><circle cx="476.73" cy="739.30" r="1.75"/><path d="M476.73,741.10v1.9" stroke-width="1.1"/></g>
<g stroke="#b2b3b2" stroke-width="0.75" fill="#dcdddc"><circle cx="388.02" cy="739.30" r="1.75"/><path d="M388.02,741.10v1.9" stroke-width="1.1"/></g>
<g stroke="#97cfba" stroke-width="0.75" fill="#d3ece2"><circle cx="483.56" cy="739.30" r="1.75"/><path d="M483.56,741.10v1.9" stroke-width="1.1"/></g>
<g stroke="#b2b3b2" stroke-width="0.75" fill="#dcdddc"><circle cx="394.88" cy="739.30" r="1.75"/><path d="M394.88,741.10v1.9" stroke-width="1.1"/></g>
<g stroke="#97cfba" stroke-width="0.75" fill="#d3ece2"><circle cx="490.39" cy="739.30" r="1.75"/><path d="M490.39,741.10v1.9" stroke-width="1.1"/></g>
<g stroke="#b2b3b2" stroke-width="0.75" fill="#dcdddc"><circle cx="401.74" cy="739.30" r="1.75"/><path d="M401.74,741.10v1.9" stroke-width="1.1"/></g>
<g stroke="#97cfba" stroke-width="0.75" fill="#d3ece2"><circle cx="497.22" cy="739.30" r="1.75"/><path d="M497.22,741.10v1.9" stroke-width="1.1"/></g>
<g stroke="#b2b3b2" stroke-width="0.75" fill="#dcdddc"><circle cx="340.00" cy="745.50" r="1.75"/><path d="M340.00,747.30v1.9" stroke-width="1.1"/></g>
<g stroke="#97cfba" stroke-width="0.75" fill="#d3ece2"><circle cx="435.75" cy="745.50" r="1.75"/><path d="M435.75,747.30v1.9" stroke-width="1.1"/></g>
<g stroke="#b2b3b2" stroke-width="0.75" fill="#dcdddc"><circle cx="346.86" cy="745.50" r="1.75"/><path d="M346.86,747.30v1.9" stroke-width="1.1"/></g>
<g stroke="#97cfba" stroke-width="0.75" fill="#d3ece2"><circle cx="442.58" cy="745.50" r="1.75"/><path d="M442.58,747.30v1.9" stroke-width="1.1"/></g>
<g stroke="#b2b3b2" stroke-width="0.75" fill="#dcdddc"><circle cx="353.72" cy="745.50" r="1.75"/><path d="M353.72,747.30v1.9" stroke-width="1.1"/></g>
<g stroke="#97cfba" stroke-width="0.75" fill="#d3ece2"><circle cx="449.41" cy="745.50" r="1.75"/><path d="M449.41,747.30v1.9" stroke-width="1.1"/></g>
<g stroke="#b2b3b2" stroke-width="0.75" fill="#dcdddc"><circle cx="360.58" cy="745.50" r="1.75"/><path d="M360.58,747.30v1.9" stroke-width="1.1"/></g>
<g stroke="#97cfba" stroke-width="0.75" fill="#d3ece2"><circle cx="456.24" cy="745.50" r="1.75"/><path d="M456.24,747.30v1.9" stroke-width="1.1"/></g>
<g stroke="#b2b3b2" stroke-width="0.75" fill="#dcdddc"><circle cx="367.44" cy="745.50" r="1.75"/><path d="M367.44,747.30v1.9" stroke-width="1.1"/></g>
<g stroke="#97cfba" stroke-width="0.75" fill="#d3ece2"><circle cx="463.07" cy="745.50" r="1.75"/><path d="M463.07,747.30v1.9" stroke-width="1.1"/></g>
<g stroke="#b2b3b2" stroke-width="0.75" fill="#dcdddc"><circle cx="374.30" cy="745.50" r="1.75"/><path d="M374.30,747.30v1.9" stroke-width="1.1"/></g>
<g stroke="#97cfba" stroke-width="0.75" fill="#d3ece2"><circle cx="469.90" cy="745.50" r="1.75"/><path d="M469.90,747.30v1.9" stroke-width="1.1"/></g>
<g stroke="#b2b3b2" stroke-width="0.75" fill="#dcdddc"><circle cx="381.16" cy="745.50" r="1.75"/><path d="M381.16,747.30v1.9" stroke-width="1.1"/></g>
<g stroke="#97cfba" stroke-width="0.75" fill="#d3ece2"><circle cx="476.73" cy="745.50" r="1.75"/><path d="M476.73,747.30v1.9" stroke-width="1.1"/></g>
<g stroke="#b2b3b2" stroke-width="0.75" fill="#dcdddc"><circle cx="388.02" cy="745.50" r="1.75"/><path d="M388.02,747.30v1.9" stroke-width="1.1"/></g>
<g stroke="#97cfba" stroke-width="0.75" fill="#d3ece2"><circle cx="483.56" cy="745.50" r="1.75"/><path d="M483.56,747.30v1.9" stroke-width="1.1"/></g>
<g stroke="#b2b3b2" stroke-width="0.75" fill="#dcdddc"><circle cx="394.88" cy="745.50" r="1.75"/><path d="M394.88,747.30v1.9" stroke-width="1.1"/></g>
<g stroke="#97cfba" stroke-width="0.75" fill="#d3ece2"><circle cx="490.39" cy="745.50" r="1.75"/><path d="M490.39,747.30v1.9" stroke-width="1.1"/></g>
<g stroke="#b2b3b2" stroke-width="0.75" fill="#dcdddc"><circle cx="401.74" cy="745.50" r="1.75"/><path d="M401.74,747.30v1.9" stroke-width="1.1"/></g>
<g stroke="#97cfba" stroke-width="0.75" fill="#d3ece2"><circle cx="497.22" cy="745.50" r="1.75"/><path d="M497.22,747.30v1.9" stroke-width="1.1"/></g>
<g stroke="#b2b3b2" stroke-width="0.75" fill="#dcdddc"><circle cx="340.00" cy="751.70" r="1.75"/><path d="M340.00,753.50v1.9" stroke-width="1.1"/></g>
<g stroke="#97cfba" stroke-width="0.75" fill="#d3ece2"><circle cx="435.75" cy="751.70" r="1.75"/><path d="M435.75,753.50v1.9" stroke-width="1.1"/></g>
<g stroke="#b2b3b2" stroke-width="0.75" fill="#dcdddc"><circle cx="346.86" cy="751.70" r="1.75"/><path d="M346.86,753.50v1.9" stroke-width="1.1"/></g>
<g stroke="#97cfba" stroke-width="0.75" fill="#d3ece2"><circle cx="442.58" cy="751.70" r="1.75"/><path d="M442.58,753.50v1.9" stroke-width="1.1"/></g>
<g stroke="#b2b3b2" stroke-width="0.75" fill="#dcdddc"><circle cx="353.72" cy="751.70" r="1.75"/><path d="M353.72,753.50v1.9" stroke-width="1.1"/></g>
<g stroke="#97cfba" stroke-width="0.75" fill="#d3ece2"><circle cx="449.41" cy="751.70" r="1.75"/><path d="M449.41,753.50v1.9" stroke-width="1.1"/></g>
<g stroke="#b2b3b2" stroke-width="0.75" fill="#dcdddc"><circle cx="360.58" cy="751.70" r="1.75"/><path d="M360.58,753.50v1.9" stroke-width="1.1"/></g>
<g stroke="#97cfba" stroke-width="0.75" fill="#d3ece2"><circle cx="456.24" cy="751.70" r="1.75"/><path d="M456.24,753.50v1.9" stroke-width="1.1"/></g>
<g stroke="#b2b3b2" stroke-width="0.75" fill="#dcdddc"><circle cx="367.44" cy="751.70" r="1.75"/><path d="M367.44,753.50v1.9" stroke-width="1.1"/></g>
<g stroke="#97cfba" stroke-width="0.75" fill="#d3ece2"><circle cx="463.07" cy="751.70" r="1.75"/><path d="M463.07,753.50v1.9" stroke-width="1.1"/></g>
<g stroke="#b2b3b2" stroke-width="0.75" fill="#dcdddc"><circle cx="374.30" cy="751.70" r="1.75"/><path d="M374.30,753.50v1.9" stroke-width="1.1"/></g>
<g stroke="#97cfba" stroke-width="0.75" fill="#d3ece2"><circle cx="469.90" cy="751.70" r="1.75"/><path d="M469.90,753.50v1.9" stroke-width="1.1"/></g>
<g stroke="#b2b3b2" stroke-width="0.75" fill="#dcdddc"><circle cx="381.16" cy="751.70" r="1.75"/><path d="M381.16,753.50v1.9" stroke-width="1.1"/></g>
<g stroke="#97cfba" stroke-width="0.75" fill="#d3ece2"><circle cx="476.73" cy="751.70" r="1.75"/><path d="M476.73,753.50v1.9" stroke-width="1.1"/></g>
<g stroke="#b2b3b2" stroke-width="0.75" fill="#dcdddc"><circle cx="388.02" cy="751.70" r="1.75"/><path d="M388.02,753.50v1.9" stroke-width="1.1"/></g>
<g stroke="#97cfba" stroke-width="0.75" fill="#d3ece2"><circle cx="483.56" cy="751.70" r="1.75"/><path d="M483.56,753.50v1.9" stroke-width="1.1"/></g>
<g stroke="#b2b3b2" stroke-width="0.75" fill="#dcdddc"><circle cx="394.88" cy="751.70" r="1.75"/><path d="M394.88,753.50v1.9" stroke-width="1.1"/></g>
<g stroke="#97cfba" stroke-width="0.75" fill="#d3ece2"><circle cx="490.39" cy="751.70" r="1.75"/><path d="M490.39,753.50v1.9" stroke-width="1.1"/></g>
<g stroke="#b2b3b2" stroke-width="0.75" fill="#dcdddc"><circle cx="401.74" cy="751.70" r="1.75"/><path d="M401.74,753.50v1.9" stroke-width="1.1"/></g>
<g stroke="#97cfba" stroke-width="0.75" fill="#d3ece2"><circle cx="497.22" cy="751.70" r="1.75"/><path d="M497.22,753.50v1.9" stroke-width="1.1"/></g>
<g stroke="#97cfba" stroke-width="0.75" fill="#d3ece2"><circle cx="469.90" cy="695.90" r="1.75"/><path d="M469.90,697.70v1.9" stroke-width="1.1"/></g>
<g stroke="#97cfba" stroke-width="0.75" fill="#d3ece2"><circle cx="476.73" cy="695.90" r="1.75"/><path d="M476.73,697.70v1.9" stroke-width="1.1"/></g>
<g stroke="#97cfba" stroke-width="0.75" fill="#d3ece2"><circle cx="483.56" cy="695.90" r="1.75"/><path d="M483.56,697.70v1.9" stroke-width="1.1"/></g>
<g stroke="#97cfba" stroke-width="0.75" fill="#d3ece2"><circle cx="490.39" cy="695.90" r="1.75"/><path d="M490.39,697.70v1.9" stroke-width="1.1"/></g>
<g stroke="#97cfba" stroke-width="0.75" fill="#d3ece2"><circle cx="497.22" cy="695.90" r="1.75"/><path d="M497.22,697.70v1.9" stroke-width="1.1"/></g>
<rect x="338.75" y="760.45" width="64.50" height="1.5" fill="#424342"/>
<rect x="434.25" y="760.45" width="65.00" height="1.5" fill="#424342"/>
<text x="338.75" y="771.9" font-size="7.8" fill="#777" textLength="18.0" lengthAdjust="spacingAndGlyphs">1990</text>
<text x="434.25" y="771.9" font-size="7.8" fill="#777" textLength="19.0" lengthAdjust="spacingAndGlyphs">2010</text>
<rect x="521.25" y="619.8" width="81.25" height="162.00" rx="8" fill="#e4e5e4"/>
<text x="528.9" y="638.1" font-size="11.7" fill="#555" textLength="67" lengthAdjust="spacingAndGlyphs" stroke="#555" stroke-width="0.3">Girls@school</text>
<text x="529.5" y="646" font-size="6.1" fill="#999">% relative to boys</text>
<rect x="529.50" y="662.50" width="30.00" height="80.50" fill="#cbcccb"/>
<rect x="564.50" y="665.00" width="30.00" height="78.00" fill="#cb3e30"/>
<text x="529.5" y="755.2" font-size="7.6" fill="#bbb" textLength="16" lengthAdjust="spacingAndGlyphs">100%</text>
<text x="581.2" y="755.2" font-size="7.6" fill="#e9a79c" textLength="13.3" lengthAdjust="spacingAndGlyphs">97%</text>
<rect x="529.5" y="760.45" width="65.00" height="1.5" fill="#424342"/>
<text x="529.5" y="771.9" font-size="7.8" fill="#bbb" textLength="19.8" lengthAdjust="spacingAndGlyphs">GOAL</text>
<text x="594.5" y="771.9" font-size="7.8" fill="#777" text-anchor="end" textLength="19.0" lengthAdjust="spacingAndGlyphs">2010</text>
<rect x="677.5" y="618" width="176.90" height="162.00" rx="8" fill="#e4e5e4"/>
<text x="684.9" y="637.6" font-size="11.7" fill="#555" textLength="95" lengthAdjust="spacingAndGlyphs" stroke="#555" stroke-width="0.3">Species extinction</text>
<text x="685.5" y="645.5" font-size="6.1" fill="#999">% of species threatened</text>
<text x="686.25" y="673.5" font-size="28.6" font-weight="bold" fill="#111" stroke="#111" stroke-width="0.8" stroke-linejoin="miter" textLength="24.50" lengthAdjust="spacingAndGlyphs">13</text>
<text x="711.75" y="666.70" font-size="13" fill="#111" textLength="8.8" lengthAdjust="spacingAndGlyphs">%</text>
<text x="742.50" y="673.5" font-size="28.6" font-weight="bold" fill="#111" stroke="#111" stroke-width="0.8" stroke-linejoin="miter" textLength="26.00" lengthAdjust="spacingAndGlyphs">25</text>
<text x="769.50" y="666.70" font-size="13" fill="#111" textLength="8.8" lengthAdjust="spacingAndGlyphs">%</text>
<text x="798.75" y="673.5" font-size="28.6" font-weight="bold" fill="#111" stroke="#111" stroke-width="0.8" stroke-linejoin="miter" textLength="25.50" lengthAdjust="spacingAndGlyphs">41</text>
<text x="825.25" y="666.70" font-size="13" fill="#111" textLength="8.8" lengthAdjust="spacingAndGlyphs">%</text>
<circle cx="709.25" cy="707.25" r="18.85" fill="none" stroke="#cbcccb" stroke-width="9"/>
<circle cx="709.25" cy="707.25" r="18.85" fill="none" stroke="#cb3e30" stroke-width="9" stroke-dasharray="15.40 118.44" transform="rotate(-90 709.25 707.25)"/>
<circle cx="766" cy="707.25" r="18.85" fill="none" stroke="#cbcccb" stroke-width="9"/>
<circle cx="766" cy="707.25" r="18.85" fill="none" stroke="#cb3e30" stroke-width="9" stroke-dasharray="29.61 118.44" transform="rotate(-90 766 707.25)"/>
<circle cx="822.5" cy="707.25" r="18.85" fill="none" stroke="#cbcccb" stroke-width="9"/>
<circle cx="822.5" cy="707.25" r="18.85" fill="none" stroke="#cb3e30" stroke-width="9" stroke-dasharray="48.56 118.44" transform="rotate(-90 822.5 707.25)"/>
<path fill="#a6a7a6" d="M700.25,736.1 L704,736.2 C705,738.5 705.6,740.3 706.5,742.3 C707.4,744.2 708,745.6 709,746.7 C709.9,747.7 710.9,748.4 711.8,748.9 L711.5,750.4 C713,751.3 714.4,752 715.9,752.6 L719.6,753.6 C717.4,754.1 715,754.5 712.75,754.2 C710.5,753.8 708.3,752.6 706.5,752.2 C705.3,752.3 704.4,753 703.4,753.25 L700.9,753.25 C700.3,752.4 700,751.5 700.25,750.75 C701.5,750.3 702.8,750.1 704,749.8 C703,748.4 702.2,746.9 701.5,745.1 C700.8,743.3 700.3,741.6 700.1,739.8 Z"/>
<path fill="#a6a7a6" d="M754.05,744.1 C754.6,743.3 755.3,742.8 756.1,742.35 C757,741.7 757.9,741.2 758.9,740.9 C761,740.7 763.2,741.1 765.3,741.2 C766.8,741.1 768.4,740.7 769.9,740.6 C771.7,740.5 773.6,740.7 775.4,740.9 L776.5,740.3 L777.2,741.2 C777.5,741.7 777.6,742.2 777.7,742.6 L779.7,744.4 L779.1,745.1 C777.9,745.3 776.6,745.2 775.4,745.2 C774.4,745.5 773.4,745.9 772.5,746.4 C772.1,747 771.9,747.7 771.9,748.4 L773.35,752.7 L772.2,753.6 L770.75,752.7 L769.9,749.55 L768.75,750.1 L767.9,753.6 L765.9,753.9 L765.3,751.3 L764.1,749 C763.1,749.3 762,749.5 761,749.55 L760.1,751.3 L761,753.6 L758.9,753.9 L757.5,751.3 L756.35,750.1 L754.6,753.9 L752.6,753.6 L752.3,751.3 L754.3,747.8 C754,746.6 753.9,745.3 754.05,744.1 Z"/>
<g fill="none" stroke="#a6a7a6" stroke-linecap="round" stroke-linejoin="round"><path stroke-width="0.9" d="M810.8,754.1 C812.3,753.8 813.6,753.3 814.8,752.5"/><path stroke-width="2.1" d="M814.3,752.8 C815.6,751.9 816.3,750.4 817.4,749.55 C818.4,748.7 819.6,748.3 820.9,748.5 C822.3,748.9 823.3,750 824.6,750.35 C825.7,750.6 826.8,750.6 827.8,750.3 C829,749.7 829.9,748.8 830.4,747.7 C831,746.7 831,745.5 831.5,744.5 C832,743.5 832.8,742.8 833.6,742.1"/><path stroke-width="0.9" d="M822,748.4 L823,746.9 M821,749.8 L821.5,751.9 M829,748.5 L828.7,746 M831,747.3 L832.6,747.9"/></g>
<rect x="685.75" y="760.45" width="47.25" height="1.5" fill="#424342"/>
<rect x="742" y="760.45" width="47.50" height="1.5" fill="#424342"/>
<rect x="798.75" y="760.45" width="47.25" height="1.5" fill="#424342"/>
<text x="685.75" y="771.5" font-size="7.8" fill="#777" textLength="17.5" lengthAdjust="spacingAndGlyphs">birds</text>
<text x="742" y="771.5" font-size="7.8" fill="#777" textLength="36.5" lengthAdjust="spacingAndGlyphs">mammals</text>
<text x="798.75" y="771.5" font-size="7.8" fill="#777" textLength="41.5" lengthAdjust="spacingAndGlyphs">amphibians</text>
<rect x="868.5" y="619.8" width="367.75" height="162.00" rx="8" fill="#e4e5e4"/>
<text x="875.65" y="638.1" font-size="11.7" fill="#555" stroke="#555" stroke-width="0.3">Energy usage</text>
<text x="875.65" y="667.2" font-size="12.5" fill="#111">+</text>
<text x="883.75" y="673.5" font-size="28.6" font-weight="bold" fill="#111" stroke="#111" stroke-width="0.8" stroke-linejoin="miter" textLength="35.00" lengthAdjust="spacingAndGlyphs">116</text>
<text x="919.75" y="666.70" font-size="13" fill="#111" textLength="8.8" lengthAdjust="spacingAndGlyphs">%</text>
<text x="1166.8" y="640.2" font-size="6.2" fill="#666" textLength="60.2" lengthAdjust="spacingAndGlyphs">KWh per person / day</text>
<polygon points="877.50,755.00 908.25,731.75 925.00,730.60 940.00,730.00 962.50,729.25 975.00,727.80 987.50,726.25 1000.00,727.50 1015.00,729.25 1030.00,726.00 1045.00,723.00 1056.00,721.80 1067.50,721.00 1080.00,722.00 1095.00,723.50 1121.50,723.50 1121.50,755.00" fill="#64bb9b"/>
<polygon points="1121.50,754.70 1121.50,723.00 1144.80,715.60 1167.60,707.20 1190.40,698.80 1208.40,694.00 1227.00,688.00 1227.00,754.70" fill="url(#hatchG)"/>
<line x1="908.25" y1="696.00" x2="908.25" y2="731.50" stroke="#999" stroke-width="0.5"/>
<text x="904.65" y="694.4" font-size="7.6" fill="#b5dccd" textLength="7.2" lengthAdjust="spacingAndGlyphs">58</text>
<line x1="1045.00" y1="696.00" x2="1045.00" y2="723.00" stroke="#999" stroke-width="0.5"/>
<text x="1041.4" y="694.4" font-size="7.6" fill="#b5dccd" textLength="7.2" lengthAdjust="spacingAndGlyphs">60</text>
<line x1="1121.50" y1="696.00" x2="1121.50" y2="723.50" stroke="#999" stroke-width="0.5"/>
<text x="1117.9" y="694.4" font-size="7.6" fill="#b5dccd" textLength="7.2" lengthAdjust="spacingAndGlyphs">61</text>
<line x1="1226.75" y1="675.50" x2="1226.75" y2="755.00" stroke="#999" stroke-width="0.5"/>
<text x="1220.3" y="673.7" font-size="7.6" fill="#b5dccd" textLength="7.2" lengthAdjust="spacingAndGlyphs">73</text>
<rect x="877.5" y="760.45" width="350.00" height="1.5" fill="#424342"/>
<text x="908.25" y="771.9" font-size="7.8" fill="#777" text-anchor="middle" textLength="19.0" lengthAdjust="spacingAndGlyphs">2005</text>
<text x="1045" y="771.9" font-size="7.8" fill="#777" text-anchor="middle" textLength="19.0" lengthAdjust="spacingAndGlyphs">2009</text>
<text x="1121.5" y="771.9" font-size="7.8" fill="#777" text-anchor="middle" textLength="19.0" lengthAdjust="spacingAndGlyphs">2013</text>
<text x="1227.5" y="771.9" font-size="7.8" fill="#777" text-anchor="end" textLength="19.0" lengthAdjust="spacingAndGlyphs">2040</text>
</svg>
</body></html>
